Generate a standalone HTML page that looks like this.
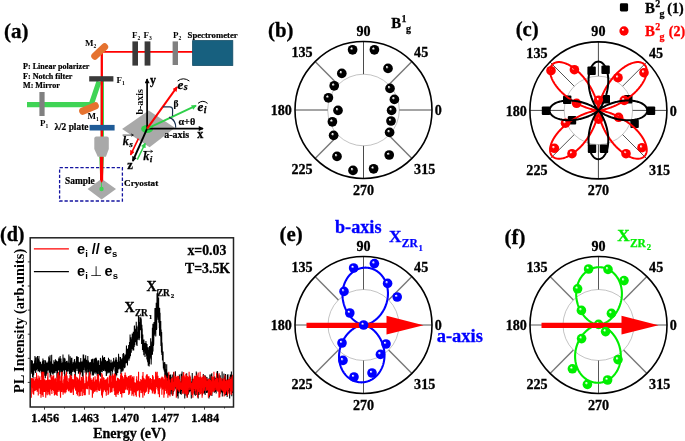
<!DOCTYPE html>
<html lang="en"><head><meta charset="utf-8"><title>Figure</title>
<style>html,body{margin:0;padding:0;background:#fff;}svg{display:block;}</style></head><body>
<svg style="will-change:transform" width="685" height="441" viewBox="0 0 685 441">
<rect x="0" y="0" width="685" height="441" fill="#fff"/>
<defs>
<radialGradient id="gk" cx="0.5" cy="0.5" r="0.5" fx="0.36" fy="0.33"><stop offset="0" stop-color="#fff"/><stop offset="0.07" stop-color="#fff" stop-opacity="0.9"/><stop offset="0.33" stop-color="#000000"/><stop offset="1" stop-color="#000000"/></radialGradient>
<radialGradient id="gr" cx="0.5" cy="0.5" r="0.5" fx="0.36" fy="0.33"><stop offset="0" stop-color="#fff"/><stop offset="0.07" stop-color="#fff" stop-opacity="0.9"/><stop offset="0.33" stop-color="#ff0000"/><stop offset="1" stop-color="#ff0000"/></radialGradient>
<radialGradient id="gb" cx="0.5" cy="0.5" r="0.5" fx="0.36" fy="0.33"><stop offset="0" stop-color="#fff"/><stop offset="0.07" stop-color="#fff" stop-opacity="0.9"/><stop offset="0.33" stop-color="#0000ff"/><stop offset="1" stop-color="#0000ff"/></radialGradient>
<radialGradient id="gg" cx="0.5" cy="0.5" r="0.5" fx="0.36" fy="0.33"><stop offset="0" stop-color="#fff"/><stop offset="0.07" stop-color="#fff" stop-opacity="0.9"/><stop offset="0.33" stop-color="#00ee00"/><stop offset="1" stop-color="#00ee00"/></radialGradient>
<marker id="ahk" markerUnits="userSpaceOnUse" viewBox="0 0 10 10" refX="8.5" refY="5" markerWidth="5.8" markerHeight="5.0" orient="auto"><path d="M0,0 L10,5 L0,10 Z" fill="#000"/></marker>
<marker id="ahr" markerUnits="userSpaceOnUse" viewBox="0 0 10 10" refX="8.5" refY="5" markerWidth="5.8" markerHeight="5.0" orient="auto"><path d="M0,0 L10,5 L0,10 Z" fill="#ff0000"/></marker>
<marker id="ahg" markerUnits="userSpaceOnUse" viewBox="0 0 10 10" refX="8.5" refY="5" markerWidth="5.8" markerHeight="5.0" orient="auto"><path d="M0,0 L10,5 L0,10 Z" fill="#2fd04a"/></marker>
</defs>
<g id="panel-a">
<text x="4" y="38" font-family="'Liberation Serif','Times New Roman',serif" font-size="21" font-weight="bold" fill="#000" stroke="#000" stroke-width="0.3" text-anchor="start" >(a)</text>
<path d="M27,104.6 L91.2,104.6 L99,81.5" fill="none" stroke="#3fd455" stroke-width="5.2" stroke-linejoin="miter"/>
<line x1="102.3" y1="81" x2="102.3" y2="137" stroke="#3fd455" stroke-width="3.4"/>
<line x1="101.8" y1="137" x2="101.8" y2="51" stroke="#ff0000" stroke-width="2.3"/>
<line x1="100.7" y1="51.9" x2="193" y2="51.9" stroke="#ff0000" stroke-width="1.9"/>
<rect x="-10.3" y="-3.55" width="20.6" height="7.1" rx="3.55" fill="#e5722f" transform="translate(99.7,51.5) rotate(-43.5)"/>
<rect x="-10.4" y="-3.6" width="20.8" height="7.2" rx="3.6" fill="#e5722f" transform="translate(89,108.5) rotate(-23)"/>
<rect x="89.2" y="76.2" width="24.2" height="5.3" fill="#3a3a3a"/>
<rect x="39.4" y="92" width="5.2" height="24" fill="#808080"/>
<rect x="89.6" y="124.9" width="25" height="5.6" fill="#1f5b97"/>
<path d="M96.3,136.4 L106.8,136.4 Q108.8,136.4 108.8,138.4 L108.8,149 L105.9,156.8 L97.8,156.8 L94.3,149 L94.3,138.4 Q94.3,136.4 96.3,136.4 Z" fill="#a9a9a9"/>
<rect x="132.4" y="41.4" width="5.6" height="24.2" fill="#3a3a3a"/>
<rect x="144.6" y="41.4" width="5.8" height="24.2" fill="#3a3a3a"/>
<rect x="172.6" y="41.4" width="5.4" height="23.6" fill="#808080"/>
<rect x="192.6" y="40.6" width="40.2" height="24.9" fill="#17607f" stroke="#124c67" stroke-width="0.8"/>
<rect x="59.6" y="167.6" width="62.8" height="33.4" fill="none" stroke="#1414a0" stroke-width="1.3" stroke-dasharray="3.3,1.9"/>
<path d="M87.6,189 L101.6,178.8 L116,189 L101.6,199.6 Z" fill="#a9a9a9"/>
<path d="M99.2,156.8 L104,156.8 L102.9,178 L100.3,178 Z" fill="#3fd455"/>
<path d="M99.9,156.8 L103.3,156.8 L103.2,179.6 L101.6,183.4 L100,179.6 Z" fill="#ff0000"/>
<line x1="101.5" y1="182.5" x2="101.5" y2="189" stroke="#3fd455" stroke-width="0.9"/>
<circle cx="101.5" cy="189" r="2.2" fill="#3fd455"/>
<text x="23" y="69" font-family="'Liberation Serif','Times New Roman',serif" font-size="8.1" font-weight="bold" fill="#000" stroke="#000" stroke-width="0.2" text-anchor="start" >P: Linear polarizer</text>
<text x="23" y="78.5" font-family="'Liberation Serif','Times New Roman',serif" font-size="8.1" font-weight="bold" fill="#000" stroke="#000" stroke-width="0.2" text-anchor="start" >F: Notch filter</text>
<text x="23" y="88" font-family="'Liberation Serif','Times New Roman',serif" font-size="8.1" font-weight="bold" fill="#000" stroke="#000" stroke-width="0.2" text-anchor="start" >M: Mirror</text>
<text x="85.1" y="45.6" font-family="'Liberation Serif','Times New Roman',serif" font-size="9" font-weight="bold" fill="#000">M<tspan font-size="5.58" dy="2">2</tspan></text>
<text x="116.4" y="83" font-family="'Liberation Serif','Times New Roman',serif" font-size="9" font-weight="bold" fill="#000">F<tspan font-size="5.58" dy="2">1</tspan></text>
<text x="40" y="125.6" font-family="'Liberation Serif','Times New Roman',serif" font-size="9" font-weight="bold" fill="#000">P<tspan font-size="5.58" dy="2">1</tspan></text>
<text x="87.4" y="119" font-family="'Liberation Serif','Times New Roman',serif" font-size="9" font-weight="bold" fill="#000">M<tspan font-size="5.58" dy="2">1</tspan></text>
<text x="132" y="38.4" font-family="'Liberation Serif','Times New Roman',serif" font-size="9" font-weight="bold" fill="#000">F<tspan font-size="5.58" dy="2">2</tspan></text>
<text x="143.6" y="38.4" font-family="'Liberation Serif','Times New Roman',serif" font-size="9" font-weight="bold" fill="#000">F<tspan font-size="5.58" dy="2">3</tspan></text>
<text x="173" y="38.4" font-family="'Liberation Serif','Times New Roman',serif" font-size="9" font-weight="bold" fill="#000">P<tspan font-size="5.58" dy="2">2</tspan></text>
<text x="187.6" y="38.4" font-family="'Liberation Serif','Times New Roman',serif" font-size="8.7" font-weight="bold" fill="#000" stroke="#000" stroke-width="0.2" text-anchor="start" >Spectrometer</text>
<text x="54.4" y="130" font-family="'Liberation Serif','Times New Roman',serif" font-size="9.4" font-weight="bold" fill="#000" stroke="#000" stroke-width="0.2" text-anchor="start" >λ/2 plate</text>
<text x="65" y="184" font-family="'Liberation Serif','Times New Roman',serif" font-size="9.4" font-weight="bold" fill="#000" stroke="#000" stroke-width="0.2" text-anchor="start" >Sample</text>
<text x="124" y="185.6" font-family="'Liberation Serif','Times New Roman',serif" font-size="9.2" font-weight="bold" fill="#000" stroke="#000" stroke-width="0.2" text-anchor="start" >Cryostat</text>
<path d="M122.1,129.1 L148.7,110.6 L174.9,127.8 L149.6,147.3 Z" fill="#a9a9a9"/>
<ellipse cx="147.1" cy="129.0" rx="6" ry="4" fill="#2fd04a"/>
<line x1="147.1" y1="128.6" x2="147.1" y2="79" stroke="#000" stroke-width="1.7" marker-end="url(#ahk)"/>
<line x1="147.1" y1="128.6" x2="203" y2="128.6" stroke="#000" stroke-width="1.7" marker-end="url(#ahk)"/>
<line x1="147.1" y1="128.6" x2="132.8" y2="161" stroke="#000" stroke-width="1.9" marker-end="url(#ahk)"/>
<line x1="147.1" y1="128.6" x2="196" y2="105.6" stroke="#2fd04a" stroke-width="1.9" marker-end="url(#ahg)"/>
<line x1="147.1" y1="128.6" x2="177" y2="87" stroke="#ff0000" stroke-width="2.1" marker-end="url(#ahr)"/>
<line x1="138.4" y1="138.7" x2="130.6" y2="154.8" stroke="#ff0000" stroke-width="1.6" marker-end="url(#ahr)"/>
<line x1="137.3" y1="159.6" x2="145.2" y2="143.4" stroke="#2fd04a" stroke-width="1.5" marker-end="url(#ahg)"/>
<path d="M163,106.8 L169.8,106.8 Q172.6,106.8 172.6,109.8 L172.5,116" fill="none" stroke="#1b3350" stroke-width="1.2"/>
<path d="M169.1,117.1 Q176.2,120.5 175.7,127.8" fill="none" stroke="#1b3350" stroke-width="1.2"/>
<text x="150" y="84" font-family="'Liberation Serif','Times New Roman',serif" font-size="12" font-weight="bold" fill="#000" stroke="#000" stroke-width="0.3" text-anchor="start" >y</text>
<text x="197.2" y="137.6" font-family="'Liberation Serif','Times New Roman',serif" font-size="12" font-weight="bold" fill="#000" stroke="#000" stroke-width="0.3" text-anchor="start" >x</text>
<text x="164.2" y="137.6" font-family="'Liberation Serif','Times New Roman',serif" font-size="10" font-weight="bold" fill="#000" stroke="#000" stroke-width="0.2" text-anchor="start" >a-axis</text>
<text font-family="'Liberation Serif','Times New Roman',serif" font-size="10" font-weight="bold" fill="#000" transform="translate(142.6,114.6) rotate(-90)">b-axis</text>
<text x="173.6" y="107" font-family="'Liberation Serif','Times New Roman',serif" font-size="9.5" font-weight="bold" fill="#000" stroke="#000" stroke-width="0.2" text-anchor="start" >β</text>
<text x="178.4" y="125" font-family="'Liberation Serif','Times New Roman',serif" font-size="10.2" font-weight="bold" fill="#000" stroke="#000" stroke-width="0.2" text-anchor="start" >α+θ</text>
<text x="127.2" y="168.6" font-family="'Liberation Serif','Times New Roman',serif" font-size="12.6" font-weight="bold" fill="#000" stroke="#000" stroke-width="0.3" text-anchor="start" >z</text>
<text x="177.5" y="88.6" font-family="'Liberation Serif','Times New Roman',serif" font-size="13.2" font-weight="bold" font-style="italic" fill="#000" stroke="#000" stroke-width="0.25">e<tspan font-size="10.03" dy="1.8" dx="0.3">s</tspan></text>
<text x="197.6" y="111" font-family="'Liberation Serif','Times New Roman',serif" font-size="13.2" font-weight="bold" font-style="italic" fill="#000" stroke="#000" stroke-width="0.25">e<tspan font-size="10.03" dy="1.8" dx="0.3">i</tspan></text>
<path d="M177.6,81 Q183.3,76.6 189.4,81" fill="none" stroke="#000" stroke-width="1"/>
<path d="M198,103.4 Q202.8,99.2 207.6,103.4" fill="none" stroke="#000" stroke-width="1"/>
<text x="122.8" y="144.9" font-family="'Liberation Serif','Times New Roman',serif" font-size="12.2" font-weight="bold" font-style="italic" fill="#000" stroke="#000" stroke-width="0.25">k<tspan font-size="9.27" dy="1.8" dx="0.3">s</tspan></text>
<text x="143.3" y="160.4" font-family="'Liberation Serif','Times New Roman',serif" font-size="12.2" font-weight="bold" font-style="italic" fill="#000" stroke="#000" stroke-width="0.25">k<tspan font-size="9.27" dy="1.8" dx="0.3">i</tspan></text>
<path d="M122.6,135.1 L133.2,135.1 M131.2,133.9 L133.4,135.1 L131.2,136.3" fill="none" stroke="#000" stroke-width="0.7"/>
<path d="M143,151.4 L152.5,151.4 M150.5,150.2 L152.7,151.4 L150.5,152.6" fill="none" stroke="#000" stroke-width="0.7"/>
</g>
<g id="panel-b">
<circle cx="363.5" cy="110" r="35.8" fill="none" stroke="#9a9a9a" stroke-width="0.6"/>
<line x1="399.30" y1="110.00" x2="432.00" y2="110.00" stroke="#4a4a4a" stroke-width="1"/>
<line x1="388.81" y1="84.69" x2="411.94" y2="61.56" stroke="#777" stroke-width="1.4"/>
<line x1="363.50" y1="74.20" x2="363.50" y2="41.50" stroke="#4a4a4a" stroke-width="1"/>
<line x1="338.19" y1="84.69" x2="315.06" y2="61.56" stroke="#777" stroke-width="1.4"/>
<line x1="327.70" y1="110.00" x2="295.00" y2="110.00" stroke="#4a4a4a" stroke-width="1"/>
<line x1="338.19" y1="135.31" x2="315.06" y2="158.44" stroke="#777" stroke-width="1.4"/>
<line x1="363.50" y1="145.80" x2="363.50" y2="178.50" stroke="#4a4a4a" stroke-width="1"/>
<line x1="388.81" y1="135.31" x2="411.94" y2="158.44" stroke="#777" stroke-width="1.4"/>
<circle cx="363.5" cy="110" r="68.5" fill="none" stroke="#000" stroke-width="1.6"/>
<text x="363.5" y="35.8" font-family="'Liberation Serif','Times New Roman',serif" font-size="14.1" font-weight="bold" fill="#000" stroke="#000" stroke-width="0.3" text-anchor="middle" >90</text>
<text x="363.5" y="194.5" font-family="'Liberation Serif','Times New Roman',serif" font-size="14.1" font-weight="bold" fill="#000" stroke="#000" stroke-width="0.3" text-anchor="middle" >270</text>
<text x="434.8" y="115.2" font-family="'Liberation Serif','Times New Roman',serif" font-size="14.1" font-weight="bold" fill="#000" stroke="#000" stroke-width="0.3" text-anchor="start" >0</text>
<text x="291.9" y="115.4" font-family="'Liberation Serif','Times New Roman',serif" font-size="14.1" font-weight="bold" fill="#000" stroke="#000" stroke-width="0.3" text-anchor="end" >180</text>
<text x="414.1" y="57.2" font-family="'Liberation Serif','Times New Roman',serif" font-size="14.1" font-weight="bold" fill="#000" stroke="#000" stroke-width="0.3" text-anchor="start" >45</text>
<text x="312.6" y="57.2" font-family="'Liberation Serif','Times New Roman',serif" font-size="14.1" font-weight="bold" fill="#000" stroke="#000" stroke-width="0.3" text-anchor="end" >135</text>
<text x="414.1" y="174.1" font-family="'Liberation Serif','Times New Roman',serif" font-size="14.1" font-weight="bold" fill="#000" stroke="#000" stroke-width="0.3" text-anchor="start" >315</text>
<text x="312.6" y="174.1" font-family="'Liberation Serif','Times New Roman',serif" font-size="14.1" font-weight="bold" fill="#000" stroke="#000" stroke-width="0.3" text-anchor="end" >225</text>
<circle cx="352.6" cy="49.8" r="4.85" fill="url(#gk)"/>
<circle cx="374.4" cy="49.8" r="4.85" fill="url(#gk)"/>
<circle cx="388" cy="68.4" r="4.85" fill="url(#gk)"/>
<circle cx="341.8" cy="73.4" r="4.85" fill="url(#gk)"/>
<circle cx="334.2" cy="85.80000000000001" r="4.85" fill="url(#gk)"/>
<circle cx="390" cy="88.4" r="4.85" fill="url(#gk)"/>
<circle cx="328.4" cy="97.80000000000001" r="4.85" fill="url(#gk)"/>
<circle cx="394.4" cy="99.4" r="4.85" fill="url(#gk)"/>
<circle cx="338" cy="110.4" r="4.85" fill="url(#gk)"/>
<circle cx="391.6" cy="110.4" r="4.85" fill="url(#gk)"/>
<circle cx="332.4" cy="121.80000000000001" r="4.85" fill="url(#gk)"/>
<circle cx="391" cy="121.0" r="4.85" fill="url(#gk)"/>
<circle cx="333.6" cy="135.4" r="4.85" fill="url(#gk)"/>
<circle cx="389.6" cy="132.4" r="4.85" fill="url(#gk)"/>
<circle cx="337" cy="156.4" r="4.85" fill="url(#gk)"/>
<circle cx="389.2" cy="155.0" r="4.85" fill="url(#gk)"/>
<circle cx="353" cy="170.4" r="4.85" fill="url(#gk)"/>
<circle cx="373.6" cy="168.8" r="4.85" fill="url(#gk)"/>
<text x="268.1" y="36.8" font-family="'Liberation Serif','Times New Roman',serif" font-size="20.8" font-weight="bold" fill="#000" stroke="#000" stroke-width="0.3" text-anchor="start" >(b)</text>
<text x="391.3" y="27.9" font-family="'Liberation Serif','Times New Roman',serif" font-size="14.8" font-weight="bold" fill="#000" stroke="#000" stroke-width="0.3" text-anchor="start" >B</text>
<text x="401.6" y="22.099999999999998" font-family="'Liberation Serif','Times New Roman',serif" font-size="10" font-weight="bold" fill="#000" stroke="#000" stroke-width="0.25" text-anchor="start" >1</text>
<text x="405.90000000000003" y="31.9" font-family="'Liberation Serif','Times New Roman',serif" font-size="10" font-weight="bold" fill="#000" stroke="#000" stroke-width="0.25" text-anchor="start" >g</text>
</g>
<g id="panel-c">
<circle cx="598.4" cy="110.4" r="34.2" fill="none" stroke="#9a9a9a" stroke-width="0.6"/>
<line x1="632.60" y1="110.40" x2="666.90" y2="110.40" stroke="#4a4a4a" stroke-width="1"/>
<line x1="622.58" y1="86.22" x2="646.84" y2="61.96" stroke="#4a4a4a" stroke-width="0.95"/>
<line x1="598.40" y1="76.20" x2="598.40" y2="41.90" stroke="#4a4a4a" stroke-width="1"/>
<line x1="574.22" y1="86.22" x2="549.96" y2="61.96" stroke="#4a4a4a" stroke-width="0.95"/>
<line x1="564.20" y1="110.40" x2="529.90" y2="110.40" stroke="#4a4a4a" stroke-width="1"/>
<line x1="574.22" y1="134.58" x2="549.96" y2="158.84" stroke="#4a4a4a" stroke-width="0.95"/>
<line x1="598.40" y1="144.60" x2="598.40" y2="178.90" stroke="#4a4a4a" stroke-width="1"/>
<line x1="622.58" y1="134.58" x2="646.84" y2="158.84" stroke="#4a4a4a" stroke-width="0.95"/>
<circle cx="598.4" cy="110.4" r="68.5" fill="none" stroke="#000" stroke-width="1.6"/>
<text x="598.4" y="36.2" font-family="'Liberation Serif','Times New Roman',serif" font-size="14.1" font-weight="bold" fill="#000" stroke="#000" stroke-width="0.3" text-anchor="middle" >90</text>
<text x="598.4" y="194.9" font-family="'Liberation Serif','Times New Roman',serif" font-size="14.1" font-weight="bold" fill="#000" stroke="#000" stroke-width="0.3" text-anchor="middle" >270</text>
<text x="669.7" y="115.6" font-family="'Liberation Serif','Times New Roman',serif" font-size="14.1" font-weight="bold" fill="#000" stroke="#000" stroke-width="0.3" text-anchor="start" >0</text>
<text x="526.8" y="115.8" font-family="'Liberation Serif','Times New Roman',serif" font-size="14.1" font-weight="bold" fill="#000" stroke="#000" stroke-width="0.3" text-anchor="end" >180</text>
<text x="649.0" y="57.6" font-family="'Liberation Serif','Times New Roman',serif" font-size="14.1" font-weight="bold" fill="#000" stroke="#000" stroke-width="0.3" text-anchor="start" >45</text>
<text x="547.5" y="57.6" font-family="'Liberation Serif','Times New Roman',serif" font-size="14.1" font-weight="bold" fill="#000" stroke="#000" stroke-width="0.3" text-anchor="end" >135</text>
<text x="649.0" y="174.5" font-family="'Liberation Serif','Times New Roman',serif" font-size="14.1" font-weight="bold" fill="#000" stroke="#000" stroke-width="0.3" text-anchor="start" >315</text>
<text x="547.5" y="174.5" font-family="'Liberation Serif','Times New Roman',serif" font-size="14.1" font-weight="bold" fill="#000" stroke="#000" stroke-width="0.3" text-anchor="end" >225</text>
<rect x="541.80" y="106.50" width="8.4" height="8.4" rx="1" fill="#000"/>
<rect x="646.80" y="106.50" width="8.4" height="8.4" rx="1" fill="#000"/>
<rect x="563.00" y="95.50" width="8.4" height="8.4" rx="1" fill="#000"/>
<rect x="567.80" y="116.10" width="8.4" height="8.4" rx="1" fill="#000"/>
<rect x="624.10" y="95.10" width="8.4" height="8.4" rx="1" fill="#000"/>
<rect x="630.40" y="119.70" width="8.4" height="8.4" rx="1" fill="#000"/>
<rect x="587.40" y="66.50" width="8.4" height="8.4" rx="1" fill="#000"/>
<rect x="601.40" y="65.50" width="8.4" height="8.4" rx="1" fill="#000"/>
<rect x="601.60" y="95.10" width="8.4" height="8.4" rx="1" fill="#000"/>
<rect x="587.80" y="144.50" width="8.4" height="8.4" rx="1" fill="#000"/>
<rect x="599.80" y="144.50" width="8.4" height="8.4" rx="1" fill="#000"/>
<circle cx="551" cy="70.7" r="4.8" fill="url(#gr)"/>
<circle cx="574.4" cy="69.7" r="4.8" fill="url(#gr)"/>
<circle cx="618" cy="77.7" r="4.8" fill="url(#gr)"/>
<circle cx="644" cy="72.7" r="4.8" fill="url(#gr)"/>
<circle cx="576.6" cy="103.3" r="4.8" fill="url(#gr)"/>
<circle cx="624.2" cy="100.4" r="4.8" fill="url(#gr)"/>
<circle cx="598.6" cy="100.4" r="4.8" fill="url(#gr)"/>
<circle cx="598.6" cy="119.10000000000001" r="4.8" fill="url(#gr)"/>
<circle cx="565.5" cy="123.2" r="4.8" fill="url(#gr)"/>
<circle cx="618.6" cy="117.3" r="4.8" fill="url(#gr)"/>
<circle cx="554.4" cy="148.29999999999998" r="4.8" fill="url(#gr)"/>
<circle cx="642" cy="147.7" r="4.8" fill="url(#gr)"/>
<circle cx="572" cy="153.7" r="4.8" fill="url(#gr)"/>
<circle cx="626" cy="153.7" r="4.8" fill="url(#gr)"/>
<polyline points="598.40,110.40 598.42,110.40 598.48,110.40 598.58,110.40 598.72,110.39 598.89,110.38 599.11,110.36 599.36,110.34 599.66,110.31 599.99,110.28 600.35,110.23 600.76,110.17 601.19,110.11 601.67,110.03 602.18,109.94 602.72,109.83 603.29,109.71 603.90,109.58 604.53,109.43 605.20,109.26 605.89,109.08 606.61,108.88 607.35,108.66 608.12,108.42 608.92,108.16 609.73,107.89 610.57,107.59 611.43,107.27 612.30,106.93 613.19,106.57 614.10,106.19 615.02,105.79 615.95,105.37 616.89,104.92 617.84,104.46 618.79,103.97 619.76,103.46 620.73,102.93 621.70,102.38 622.67,101.81 623.64,101.21 624.61,100.60 625.57,99.97 626.53,99.32 627.48,98.65 628.43,97.96 629.36,97.26 630.28,96.54 631.19,95.80 632.09,95.05 632.97,94.28 633.83,93.50 634.68,92.71 635.50,91.90 636.31,91.09 637.09,90.26 637.85,89.43 638.58,88.58 639.29,87.74 639.97,86.88 640.62,86.03 641.24,85.16 641.84,84.30 642.40,83.44 642.93,82.57 643.43,81.71 643.90,80.86 644.33,80.00 644.73,79.15 645.09,78.31 645.42,77.48 645.71,76.66 645.96,75.84 646.18,75.04 646.37,74.25 646.51,73.48 646.62,72.72 646.70,71.98 646.73,71.26 646.73,70.56 646.69,69.88 646.62,69.22 646.51,68.58 646.36,67.97 646.18,67.38 645.96,66.82 645.71,66.29 645.42,65.78 645.10,65.30 644.75,64.85 644.36,64.44 643.95,64.05 643.50,63.70 643.02,63.38 642.51,63.09 641.98,62.84 641.42,62.62 640.83,62.44 640.22,62.29 639.58,62.18 638.92,62.11 638.24,62.07 637.54,62.07 636.82,62.10 636.08,62.18 635.32,62.29 634.55,62.43 633.76,62.62 632.96,62.84 632.14,63.09 631.32,63.38 630.49,63.71 629.65,64.07 628.80,64.47 627.94,64.90 627.09,65.37 626.23,65.87 625.36,66.40 624.50,66.96 623.64,67.56 622.77,68.18 621.92,68.83 621.06,69.51 620.22,70.22 619.37,70.95 618.54,71.71 617.71,72.49 616.90,73.30 616.09,74.12 615.30,74.97 614.52,75.83 613.75,76.71 613.00,77.61 612.26,78.52 611.54,79.44 610.84,80.37 610.15,81.32 609.48,82.27 608.83,83.23 608.20,84.19 607.59,85.16 606.99,86.13 606.42,87.10 605.87,88.07 605.34,89.04 604.83,90.01 604.34,90.96 603.88,91.91 603.43,92.85 603.01,93.78 602.61,94.70 602.23,95.61 601.87,96.50 601.53,97.37 601.21,98.23 600.91,99.07 600.64,99.88 600.38,100.68 600.14,101.45 599.92,102.19 599.72,102.91 599.54,103.60 599.37,104.27 599.22,104.90 599.09,105.51 598.97,106.08 598.86,106.62 598.77,107.13 598.69,107.61 598.63,108.04 598.57,108.45 598.52,108.81 598.49,109.14 598.46,109.44 598.44,109.69 598.42,109.91 598.41,110.08 598.40,110.22 598.40,110.32 598.40,110.38 598.40,110.40 598.40,110.38 598.40,110.32 598.40,110.22 598.39,110.08 598.38,109.91 598.36,109.69 598.34,109.44 598.31,109.14 598.28,108.81 598.23,108.45 598.17,108.04 598.11,107.61 598.03,107.13 597.94,106.62 597.83,106.08 597.71,105.51 597.58,104.90 597.43,104.27 597.26,103.60 597.08,102.91 596.88,102.19 596.66,101.45 596.42,100.68 596.16,99.88 595.89,99.07 595.59,98.23 595.27,97.37 594.93,96.50 594.57,95.61 594.19,94.70 593.79,93.78 593.37,92.85 592.92,91.91 592.46,90.96 591.97,90.01 591.46,89.04 590.93,88.07 590.38,87.10 589.81,86.13 589.21,85.16 588.60,84.19 587.97,83.23 587.32,82.27 586.65,81.32 585.96,80.37 585.26,79.44 584.54,78.52 583.80,77.61 583.05,76.71 582.28,75.83 581.50,74.97 580.71,74.12 579.90,73.30 579.09,72.49 578.26,71.71 577.43,70.95 576.58,70.22 575.74,69.51 574.88,68.83 574.02,68.18 573.16,67.56 572.30,66.96 571.44,66.40 570.57,65.87 569.71,65.37 568.86,64.90 568.00,64.47 567.15,64.07 566.31,63.71 565.48,63.38 564.66,63.09 563.84,62.84 563.04,62.62 562.25,62.43 561.48,62.29 560.72,62.18 559.98,62.10 559.26,62.07 558.56,62.07 557.88,62.11 557.22,62.18 556.58,62.29 555.97,62.44 555.38,62.62 554.82,62.84 554.29,63.09 553.78,63.38 553.30,63.70 552.85,64.05 552.44,64.44 552.05,64.85 551.70,65.30 551.38,65.78 551.09,66.29 550.84,66.82 550.62,67.38 550.44,67.97 550.29,68.58 550.18,69.22 550.11,69.88 550.07,70.56 550.07,71.26 550.10,71.98 550.18,72.72 550.29,73.48 550.43,74.25 550.62,75.04 550.84,75.84 551.09,76.66 551.38,77.48 551.71,78.31 552.07,79.15 552.47,80.00 552.90,80.86 553.37,81.71 553.87,82.57 554.40,83.44 554.96,84.30 555.56,85.16 556.18,86.03 556.83,86.88 557.51,87.74 558.22,88.58 558.95,89.43 559.71,90.26 560.49,91.09 561.30,91.90 562.12,92.71 562.97,93.50 563.83,94.28 564.71,95.05 565.61,95.80 566.52,96.54 567.44,97.26 568.37,97.96 569.32,98.65 570.27,99.32 571.23,99.97 572.19,100.60 573.16,101.21 574.13,101.81 575.10,102.38 576.07,102.93 577.04,103.46 578.01,103.97 578.96,104.46 579.91,104.92 580.85,105.37 581.78,105.79 582.70,106.19 583.61,106.57 584.50,106.93 585.37,107.27 586.23,107.59 587.07,107.89 587.88,108.16 588.68,108.42 589.45,108.66 590.19,108.88 590.91,109.08 591.60,109.26 592.27,109.43 592.90,109.58 593.51,109.71 594.08,109.83 594.62,109.94 595.13,110.03 595.61,110.11 596.04,110.17 596.45,110.23 596.81,110.28 597.14,110.31 597.44,110.34 597.69,110.36 597.91,110.38 598.08,110.39 598.22,110.40 598.32,110.40 598.38,110.40 598.40,110.40 598.38,110.40 598.32,110.40 598.22,110.40 598.08,110.41 597.91,110.42 597.69,110.44 597.44,110.46 597.14,110.49 596.81,110.52 596.45,110.57 596.04,110.63 595.61,110.69 595.13,110.77 594.62,110.86 594.08,110.97 593.51,111.09 592.90,111.22 592.27,111.37 591.60,111.54 590.91,111.72 590.19,111.92 589.45,112.14 588.68,112.38 587.88,112.64 587.07,112.91 586.23,113.21 585.37,113.53 584.50,113.87 583.61,114.23 582.70,114.61 581.78,115.01 580.85,115.43 579.91,115.88 578.96,116.34 578.01,116.83 577.04,117.34 576.07,117.87 575.10,118.42 574.13,118.99 573.16,119.59 572.19,120.20 571.23,120.83 570.27,121.48 569.32,122.15 568.37,122.84 567.44,123.54 566.52,124.26 565.61,125.00 564.71,125.75 563.83,126.52 562.97,127.30 562.12,128.09 561.30,128.90 560.49,129.71 559.71,130.54 558.95,131.37 558.22,132.22 557.51,133.06 556.83,133.92 556.18,134.78 555.56,135.64 554.96,136.50 554.40,137.36 553.87,138.23 553.37,139.09 552.90,139.94 552.47,140.80 552.07,141.65 551.71,142.49 551.38,143.32 551.09,144.14 550.84,144.96 550.62,145.76 550.43,146.55 550.29,147.32 550.18,148.08 550.10,148.82 550.07,149.54 550.07,150.24 550.11,150.92 550.18,151.58 550.29,152.22 550.44,152.83 550.62,153.42 550.84,153.98 551.09,154.51 551.38,155.02 551.70,155.50 552.05,155.95 552.44,156.36 552.85,156.75 553.30,157.10 553.78,157.42 554.29,157.71 554.82,157.96 555.38,158.18 555.97,158.36 556.58,158.51 557.22,158.62 557.88,158.69 558.56,158.73 559.26,158.73 559.98,158.70 560.72,158.62 561.48,158.51 562.25,158.37 563.04,158.18 563.84,157.96 564.66,157.71 565.48,157.42 566.31,157.09 567.15,156.73 568.00,156.33 568.86,155.90 569.71,155.43 570.57,154.93 571.44,154.40 572.30,153.84 573.16,153.24 574.02,152.62 574.88,151.97 575.74,151.29 576.58,150.58 577.43,149.85 578.26,149.09 579.09,148.31 579.90,147.50 580.71,146.68 581.50,145.83 582.28,144.97 583.05,144.09 583.80,143.19 584.54,142.28 585.26,141.36 585.96,140.43 586.65,139.48 587.32,138.53 587.97,137.57 588.60,136.61 589.21,135.64 589.81,134.67 590.38,133.70 590.93,132.73 591.46,131.76 591.97,130.79 592.46,129.84 592.92,128.89 593.37,127.95 593.79,127.02 594.19,126.10 594.57,125.19 594.93,124.30 595.27,123.43 595.59,122.57 595.89,121.73 596.16,120.92 596.42,120.12 596.66,119.35 596.88,118.61 597.08,117.89 597.26,117.20 597.43,116.53 597.58,115.90 597.71,115.29 597.83,114.72 597.94,114.18 598.03,113.67 598.11,113.19 598.17,112.76 598.23,112.35 598.28,111.99 598.31,111.66 598.34,111.36 598.36,111.11 598.38,110.89 598.39,110.72 598.40,110.58 598.40,110.48 598.40,110.42 598.40,110.40 598.40,110.42 598.40,110.48 598.40,110.58 598.41,110.72 598.42,110.89 598.44,111.11 598.46,111.36 598.49,111.66 598.52,111.99 598.57,112.35 598.63,112.76 598.69,113.19 598.77,113.67 598.86,114.18 598.97,114.72 599.09,115.29 599.22,115.90 599.37,116.53 599.54,117.20 599.72,117.89 599.92,118.61 600.14,119.35 600.38,120.12 600.64,120.92 600.91,121.73 601.21,122.57 601.53,123.43 601.87,124.30 602.23,125.19 602.61,126.10 603.01,127.02 603.43,127.95 603.88,128.89 604.34,129.84 604.83,130.79 605.34,131.76 605.87,132.73 606.42,133.70 606.99,134.67 607.59,135.64 608.20,136.61 608.83,137.57 609.48,138.53 610.15,139.48 610.84,140.43 611.54,141.36 612.26,142.28 613.00,143.19 613.75,144.09 614.52,144.97 615.30,145.83 616.09,146.68 616.90,147.50 617.71,148.31 618.54,149.09 619.37,149.85 620.22,150.58 621.06,151.29 621.92,151.97 622.77,152.62 623.64,153.24 624.50,153.84 625.36,154.40 626.23,154.93 627.09,155.43 627.94,155.90 628.80,156.33 629.65,156.73 630.49,157.09 631.32,157.42 632.14,157.71 632.96,157.96 633.76,158.18 634.55,158.37 635.32,158.51 636.08,158.62 636.82,158.70 637.54,158.73 638.24,158.73 638.92,158.69 639.58,158.62 640.22,158.51 640.83,158.36 641.42,158.18 641.98,157.96 642.51,157.71 643.02,157.42 643.50,157.10 643.95,156.75 644.36,156.36 644.75,155.95 645.10,155.50 645.42,155.02 645.71,154.51 645.96,153.98 646.18,153.42 646.36,152.83 646.51,152.22 646.62,151.58 646.69,150.92 646.73,150.24 646.73,149.54 646.70,148.82 646.62,148.08 646.51,147.32 646.37,146.55 646.18,145.76 645.96,144.96 645.71,144.14 645.42,143.32 645.09,142.49 644.73,141.65 644.33,140.80 643.90,139.94 643.43,139.09 642.93,138.23 642.40,137.36 641.84,136.50 641.24,135.64 640.62,134.78 639.97,133.92 639.29,133.06 638.58,132.22 637.85,131.37 637.09,130.54 636.31,129.71 635.50,128.90 634.68,128.09 633.83,127.30 632.97,126.52 632.09,125.75 631.19,125.00 630.28,124.26 629.36,123.54 628.43,122.84 627.48,122.15 626.53,121.48 625.57,120.83 624.61,120.20 623.64,119.59 622.67,118.99 621.70,118.42 620.73,117.87 619.76,117.34 618.79,116.83 617.84,116.34 616.89,115.88 615.95,115.43 615.02,115.01 614.10,114.61 613.19,114.23 612.30,113.87 611.43,113.53 610.57,113.21 609.73,112.91 608.92,112.64 608.12,112.38 607.35,112.14 606.61,111.92 605.89,111.72 605.20,111.54 604.53,111.37 603.90,111.22 603.29,111.09 602.72,110.97 602.18,110.86 601.67,110.77 601.19,110.69 600.76,110.63 600.35,110.57 599.99,110.52 599.66,110.49 599.36,110.46 599.11,110.44 598.89,110.42 598.72,110.41 598.58,110.40 598.48,110.40 598.42,110.40 598.40,110.40" fill="none" stroke="#ff0000" stroke-width="2.0" stroke-linejoin="round"/>
<polyline points="647.20,110.40 647.18,109.97 647.13,109.55 647.05,109.13 646.93,108.71 646.78,108.29 646.60,107.87 646.39,107.47 646.14,107.06 645.86,106.66 645.55,106.28 645.21,105.89 644.83,105.52 644.43,105.16 644.00,104.80 643.54,104.46 643.05,104.12 642.54,103.80 642.00,103.49 641.43,103.20 640.84,102.92 640.22,102.65 639.58,102.40 638.92,102.16 638.24,101.93 637.53,101.72 636.81,101.53 636.07,101.36 635.31,101.20 634.54,101.05 633.75,100.93 632.95,100.82 632.14,100.73 631.31,100.65 630.47,100.59 629.63,100.55 628.78,100.53 627.92,100.52 627.05,100.53 626.18,100.56 625.31,100.61 624.44,100.67 623.56,100.74 622.69,100.83 621.81,100.94 620.94,101.06 620.08,101.20 619.22,101.35 618.36,101.51 617.51,101.69 616.67,101.88 615.84,102.08 615.03,102.29 614.22,102.51 613.42,102.75 612.64,102.99 611.87,103.24 611.12,103.49 610.39,103.76 609.67,104.03 608.97,104.30 608.28,104.58 607.62,104.86 606.98,105.14 606.35,105.43 605.75,105.72 605.17,106.00 604.61,106.29 604.08,106.57 603.57,106.85 603.08,107.13 602.61,107.40 602.17,107.66 601.75,107.92 601.36,108.17 600.99,108.41 600.65,108.64 600.33,108.86 600.04,109.07 599.77,109.27 599.53,109.45 599.31,109.62 599.11,109.78 598.94,109.92 598.80,110.04 598.67,110.15 598.57,110.24 598.50,110.31 598.44,110.36 598.41,110.39 598.40,110.40 598.41,110.39 598.44,110.36 598.49,110.30 598.56,110.23 598.65,110.13 598.76,110.00 598.88,109.86 599.02,109.69 599.18,109.49 599.35,109.27 599.53,109.03 599.73,108.76 599.94,108.47 600.16,108.15 600.39,107.81 600.63,107.44 600.88,107.05 601.14,106.63 601.40,106.19 601.67,105.72 601.95,105.23 602.23,104.72 602.51,104.19 602.80,103.63 603.08,103.05 603.37,102.45 603.66,101.82 603.94,101.18 604.22,100.52 604.50,99.83 604.77,99.13 605.04,98.41 605.31,97.68 605.56,96.93 605.81,96.16 606.05,95.38 606.29,94.58 606.51,93.77 606.72,92.96 606.92,92.13 607.11,91.29 607.29,90.44 607.45,89.58 607.60,88.72 607.74,87.86 607.86,86.99 607.97,86.11 608.06,85.24 608.13,84.36 608.19,83.49 608.24,82.62 608.27,81.75 608.28,80.88 608.27,80.02 608.25,79.17 608.21,78.33 608.15,77.49 608.07,76.66 607.98,75.85 607.87,75.05 607.75,74.26 607.60,73.49 607.44,72.73 607.27,71.99 607.08,71.27 606.87,70.56 606.64,69.88 606.40,69.22 606.15,68.58 605.88,67.96 605.60,67.37 605.31,66.80 605.00,66.26 604.68,65.75 604.34,65.26 604.00,64.80 603.64,64.37 603.28,63.97 602.91,63.59 602.52,63.25 602.14,62.94 601.74,62.66 601.33,62.41 600.93,62.20 600.51,62.02 600.09,61.87 599.67,61.75 599.25,61.67 598.83,61.62 598.40,61.60 597.97,61.62 597.55,61.67 597.13,61.75 596.71,61.87 596.29,62.02 595.87,62.20 595.47,62.41 595.06,62.66 594.66,62.94 594.28,63.25 593.89,63.59 593.52,63.97 593.16,64.37 592.80,64.80 592.46,65.26 592.12,65.75 591.80,66.26 591.49,66.80 591.20,67.37 590.92,67.96 590.65,68.58 590.40,69.22 590.16,69.88 589.93,70.56 589.72,71.27 589.53,71.99 589.36,72.73 589.20,73.49 589.05,74.26 588.93,75.05 588.82,75.85 588.73,76.66 588.65,77.49 588.59,78.33 588.55,79.17 588.53,80.02 588.52,80.88 588.53,81.75 588.56,82.62 588.61,83.49 588.67,84.36 588.74,85.24 588.83,86.11 588.94,86.99 589.06,87.86 589.20,88.72 589.35,89.58 589.51,90.44 589.69,91.29 589.88,92.13 590.08,92.96 590.29,93.77 590.51,94.58 590.75,95.38 590.99,96.16 591.24,96.93 591.49,97.68 591.76,98.41 592.03,99.13 592.30,99.83 592.58,100.52 592.86,101.18 593.14,101.82 593.43,102.45 593.72,103.05 594.00,103.63 594.29,104.19 594.57,104.72 594.85,105.23 595.13,105.72 595.40,106.19 595.66,106.63 595.92,107.05 596.17,107.44 596.41,107.81 596.64,108.15 596.86,108.47 597.07,108.76 597.27,109.03 597.45,109.27 597.62,109.49 597.78,109.69 597.92,109.86 598.04,110.00 598.15,110.13 598.24,110.23 598.31,110.30 598.36,110.36 598.39,110.39 598.40,110.40 598.39,110.39 598.36,110.36 598.30,110.31 598.23,110.24 598.13,110.15 598.00,110.04 597.86,109.92 597.69,109.78 597.49,109.62 597.27,109.45 597.03,109.27 596.76,109.07 596.47,108.86 596.15,108.64 595.81,108.41 595.44,108.17 595.05,107.92 594.63,107.66 594.19,107.40 593.72,107.13 593.23,106.85 592.72,106.57 592.19,106.29 591.63,106.00 591.05,105.72 590.45,105.43 589.82,105.14 589.18,104.86 588.52,104.58 587.83,104.30 587.13,104.03 586.41,103.76 585.68,103.49 584.93,103.24 584.16,102.99 583.38,102.75 582.58,102.51 581.77,102.29 580.96,102.08 580.13,101.88 579.29,101.69 578.44,101.51 577.58,101.35 576.72,101.20 575.86,101.06 574.99,100.94 574.11,100.83 573.24,100.74 572.36,100.67 571.49,100.61 570.62,100.56 569.75,100.53 568.88,100.52 568.02,100.53 567.17,100.55 566.33,100.59 565.49,100.65 564.66,100.73 563.85,100.82 563.05,100.93 562.26,101.05 561.49,101.20 560.73,101.36 559.99,101.53 559.27,101.72 558.56,101.93 557.88,102.16 557.22,102.40 556.58,102.65 555.96,102.92 555.37,103.20 554.80,103.49 554.26,103.80 553.75,104.12 553.26,104.46 552.80,104.80 552.37,105.16 551.97,105.52 551.59,105.89 551.25,106.28 550.94,106.66 550.66,107.06 550.41,107.47 550.20,107.87 550.02,108.29 549.87,108.71 549.75,109.13 549.67,109.55 549.62,109.97 549.60,110.40 549.62,110.83 549.67,111.25 549.75,111.67 549.87,112.09 550.02,112.51 550.20,112.93 550.41,113.33 550.66,113.74 550.94,114.14 551.25,114.52 551.59,114.91 551.97,115.28 552.37,115.64 552.80,116.00 553.26,116.34 553.75,116.68 554.26,117.00 554.80,117.31 555.37,117.60 555.96,117.88 556.58,118.15 557.22,118.40 557.88,118.64 558.56,118.87 559.27,119.08 559.99,119.27 560.73,119.44 561.49,119.60 562.26,119.75 563.05,119.87 563.85,119.98 564.66,120.07 565.49,120.15 566.33,120.21 567.17,120.25 568.02,120.27 568.88,120.28 569.75,120.27 570.62,120.24 571.49,120.19 572.36,120.13 573.24,120.06 574.11,119.97 574.99,119.86 575.86,119.74 576.72,119.60 577.58,119.45 578.44,119.29 579.29,119.11 580.13,118.92 580.96,118.72 581.77,118.51 582.58,118.29 583.38,118.05 584.16,117.81 584.93,117.56 585.68,117.31 586.41,117.04 587.13,116.77 587.83,116.50 588.52,116.22 589.18,115.94 589.82,115.66 590.45,115.37 591.05,115.08 591.63,114.80 592.19,114.51 592.72,114.23 593.23,113.95 593.72,113.67 594.19,113.40 594.63,113.14 595.05,112.88 595.44,112.63 595.81,112.39 596.15,112.16 596.47,111.94 596.76,111.73 597.03,111.53 597.27,111.35 597.49,111.18 597.69,111.02 597.86,110.88 598.00,110.76 598.13,110.65 598.23,110.56 598.30,110.49 598.36,110.44 598.39,110.41 598.40,110.40 598.39,110.41 598.36,110.44 598.31,110.50 598.24,110.57 598.15,110.67 598.04,110.80 597.92,110.94 597.78,111.11 597.62,111.31 597.45,111.53 597.27,111.77 597.07,112.04 596.86,112.33 596.64,112.65 596.41,112.99 596.17,113.36 595.92,113.75 595.66,114.17 595.40,114.61 595.13,115.08 594.85,115.57 594.57,116.08 594.29,116.61 594.00,117.17 593.72,117.75 593.43,118.35 593.14,118.98 592.86,119.62 592.58,120.28 592.30,120.97 592.03,121.67 591.76,122.39 591.49,123.12 591.24,123.87 590.99,124.64 590.75,125.42 590.51,126.22 590.29,127.03 590.08,127.84 589.88,128.67 589.69,129.51 589.51,130.36 589.35,131.22 589.20,132.08 589.06,132.94 588.94,133.81 588.83,134.69 588.74,135.56 588.67,136.44 588.61,137.31 588.56,138.18 588.53,139.05 588.52,139.92 588.53,140.78 588.55,141.63 588.59,142.47 588.65,143.31 588.73,144.14 588.82,144.95 588.93,145.75 589.05,146.54 589.20,147.31 589.36,148.07 589.53,148.81 589.72,149.53 589.93,150.24 590.16,150.92 590.40,151.58 590.65,152.22 590.92,152.84 591.20,153.43 591.49,154.00 591.80,154.54 592.12,155.05 592.46,155.54 592.80,156.00 593.16,156.43 593.52,156.83 593.89,157.21 594.28,157.55 594.66,157.86 595.06,158.14 595.47,158.39 595.87,158.60 596.29,158.78 596.71,158.93 597.13,159.05 597.55,159.13 597.97,159.18 598.40,159.20 598.83,159.18 599.25,159.13 599.67,159.05 600.09,158.93 600.51,158.78 600.93,158.60 601.33,158.39 601.74,158.14 602.14,157.86 602.52,157.55 602.91,157.21 603.28,156.83 603.64,156.43 604.00,156.00 604.34,155.54 604.68,155.05 605.00,154.54 605.31,154.00 605.60,153.43 605.88,152.84 606.15,152.22 606.40,151.58 606.64,150.92 606.87,150.24 607.08,149.53 607.27,148.81 607.44,148.07 607.60,147.31 607.75,146.54 607.87,145.75 607.98,144.95 608.07,144.14 608.15,143.31 608.21,142.47 608.25,141.63 608.27,140.78 608.28,139.92 608.27,139.05 608.24,138.18 608.19,137.31 608.13,136.44 608.06,135.56 607.97,134.69 607.86,133.81 607.74,132.94 607.60,132.08 607.45,131.22 607.29,130.36 607.11,129.51 606.92,128.67 606.72,127.84 606.51,127.03 606.29,126.22 606.05,125.42 605.81,124.64 605.56,123.87 605.31,123.12 605.04,122.39 604.77,121.67 604.50,120.97 604.22,120.28 603.94,119.62 603.66,118.98 603.37,118.35 603.08,117.75 602.80,117.17 602.51,116.61 602.23,116.08 601.95,115.57 601.67,115.08 601.40,114.61 601.14,114.17 600.88,113.75 600.63,113.36 600.39,112.99 600.16,112.65 599.94,112.33 599.73,112.04 599.53,111.77 599.35,111.53 599.18,111.31 599.02,111.11 598.88,110.94 598.76,110.80 598.65,110.67 598.56,110.57 598.49,110.50 598.44,110.44 598.41,110.41 598.40,110.40 598.41,110.41 598.44,110.44 598.50,110.49 598.57,110.56 598.67,110.65 598.80,110.76 598.94,110.88 599.11,111.02 599.31,111.18 599.53,111.35 599.77,111.53 600.04,111.73 600.33,111.94 600.65,112.16 600.99,112.39 601.36,112.63 601.75,112.88 602.17,113.14 602.61,113.40 603.08,113.67 603.57,113.95 604.08,114.23 604.61,114.51 605.17,114.80 605.75,115.08 606.35,115.37 606.98,115.66 607.62,115.94 608.28,116.22 608.97,116.50 609.67,116.77 610.39,117.04 611.12,117.31 611.87,117.56 612.64,117.81 613.42,118.05 614.22,118.29 615.03,118.51 615.84,118.72 616.67,118.92 617.51,119.11 618.36,119.29 619.22,119.45 620.08,119.60 620.94,119.74 621.81,119.86 622.69,119.97 623.56,120.06 624.44,120.13 625.31,120.19 626.18,120.24 627.05,120.27 627.92,120.28 628.78,120.27 629.63,120.25 630.47,120.21 631.31,120.15 632.14,120.07 632.95,119.98 633.75,119.87 634.54,119.75 635.31,119.60 636.07,119.44 636.81,119.27 637.53,119.08 638.24,118.87 638.92,118.64 639.58,118.40 640.22,118.15 640.84,117.88 641.43,117.60 642.00,117.31 642.54,117.00 643.05,116.68 643.54,116.34 644.00,116.00 644.43,115.64 644.83,115.28 645.21,114.91 645.55,114.52 645.86,114.14 646.14,113.74 646.39,113.33 646.60,112.93 646.78,112.51 646.93,112.09 647.05,111.67 647.13,111.25 647.18,110.83 647.20,110.40" fill="none" stroke="#000" stroke-width="2.0" stroke-linejoin="round"/>
<text x="515.7" y="36.4" font-family="'Liberation Serif','Times New Roman',serif" font-size="20.8" font-weight="bold" fill="#000" stroke="#000" stroke-width="0.3" text-anchor="start" >(c)</text>
<rect x="619.9" y="3.3" width="8.2" height="8.2" rx="1.4" fill="#000"/>
<circle cx="624" cy="31" r="4.65" fill="url(#gr)"/>
<text x="645" y="12.6" font-family="'Liberation Serif','Times New Roman',serif" font-size="14.8" font-weight="bold" fill="#000" stroke="#000" stroke-width="0.3" text-anchor="start" >B</text>
<text x="655.3" y="6.8" font-family="'Liberation Serif','Times New Roman',serif" font-size="10" font-weight="bold" fill="#000" stroke="#000" stroke-width="0.25" text-anchor="start" >2</text>
<text x="659.6" y="16.6" font-family="'Liberation Serif','Times New Roman',serif" font-size="10" font-weight="bold" fill="#000" stroke="#000" stroke-width="0.25" text-anchor="start" >g</text>
<text x="667.3" y="12.6" font-family="'Liberation Serif','Times New Roman',serif" font-size="14" font-weight="bold" fill="#000" stroke="#000" stroke-width="0.3" text-anchor="start" >(1)</text>
<text x="645" y="36.1" font-family="'Liberation Serif','Times New Roman',serif" font-size="14.8" font-weight="bold" fill="#ff0000" stroke="#ff0000" stroke-width="0.3" text-anchor="start" >B</text>
<text x="655.3" y="30.3" font-family="'Liberation Serif','Times New Roman',serif" font-size="10" font-weight="bold" fill="#ff0000" stroke="#ff0000" stroke-width="0.25" text-anchor="start" >2</text>
<text x="659.6" y="40.1" font-family="'Liberation Serif','Times New Roman',serif" font-size="10" font-weight="bold" fill="#ff0000" stroke="#ff0000" stroke-width="0.25" text-anchor="start" >g</text>
<text x="668.8" y="36.1" font-family="'Liberation Serif','Times New Roman',serif" font-size="14" font-weight="bold" fill="#ff0000" stroke="#ff0000" stroke-width="0.3" text-anchor="start" >(2)</text>
</g>
<g id="panel-d">
<polyline points="31.00,360.8 31.10,360.4 31.20,360.9 31.30,373.8 31.40,365.2 31.50,365.0 31.61,371.8 31.71,359.9 31.81,362.9 31.91,370.6 32.01,366.2 32.11,369.2 32.21,369.8 32.31,365.8 32.41,360.7 32.51,377.1 32.61,367.5 32.72,369.4 32.82,370.3 32.92,374.9 33.02,367.7 33.12,378.0 33.22,367.2 33.32,369.9 33.42,363.9 33.52,367.2 33.62,375.1 33.72,373.8 33.83,363.6 33.93,367.4 34.03,363.1 34.13,367.8 34.23,363.7 34.33,370.3 34.43,370.6 34.53,369.9 34.63,360.6 34.73,366.8 34.83,366.4 34.94,355.9 35.04,366.0 35.14,362.3 35.24,359.4 35.34,363.3 35.44,372.5 35.54,366.0 35.64,358.2 35.74,372.9 35.84,364.8 35.94,366.6 36.05,367.4 36.15,357.3 36.25,368.2 36.35,370.0 36.45,370.2 36.55,363.8 36.65,363.0 36.75,362.7 36.85,365.8 36.95,365.0 37.05,369.1 37.15,363.6 37.26,368.5 37.36,359.5 37.46,356.0 37.56,366.0 37.66,360.7 37.76,368.3 37.86,370.1 37.96,362.2 38.06,371.5 38.16,365.1 38.26,368.9 38.37,358.5 38.47,369.3 38.57,359.0 38.67,365.0 38.77,370.4 38.87,371.2 38.97,356.1 39.07,368.3 39.17,359.9 39.27,365.1 39.37,364.7 39.48,365.7 39.58,372.2 39.68,361.6 39.78,365.4 39.88,364.9 39.98,370.1 40.08,369.4 40.18,367.8 40.28,362.6 40.38,370.6 40.48,361.7 40.59,363.9 40.69,362.9 40.79,368.7 40.89,370.0 40.99,369.9 41.09,367.1 41.19,369.0 41.29,372.5 41.39,373.4 41.49,370.3 41.59,367.6 41.70,364.2 41.80,374.3 41.90,377.3 42.00,364.1 42.10,366.0 42.20,368.8 42.30,367.6 42.40,361.3 42.50,361.5 42.60,366.2 42.70,362.5 42.81,372.2 42.91,358.6 43.01,360.6 43.11,367.9 43.21,363.3 43.31,373.3 43.41,367.6 43.51,373.5 43.61,370.9 43.71,363.3 43.81,360.2 43.92,370.2 44.02,369.3 44.12,364.9 44.22,364.0 44.32,365.2 44.42,371.0 44.52,366.6 44.62,375.7 44.72,370.1 44.82,365.7 44.92,364.7 45.03,367.0 45.13,360.1 45.23,362.3 45.33,378.2 45.43,374.1 45.53,364.2 45.63,361.0 45.73,366.7 45.83,368.2 45.93,365.0 46.03,370.2 46.14,363.3 46.24,375.7 46.34,367.0 46.44,368.3 46.54,363.9 46.64,362.5 46.74,368.3 46.84,365.0 46.94,373.3 47.04,373.7 47.14,370.1 47.24,371.6 47.35,362.8 47.45,370.5 47.55,364.4 47.65,370.2 47.75,363.3 47.85,365.5 47.95,367.6 48.05,361.6 48.15,368.9 48.25,370.4 48.35,364.6 48.46,369.9 48.56,361.9 48.66,361.8 48.76,356.5 48.86,358.6 48.96,359.0 49.06,358.4 49.16,372.7 49.26,369.4 49.36,366.3 49.46,357.9 49.57,368.8 49.67,367.3 49.77,368.1 49.87,364.4 49.97,366.0 50.07,355.3 50.17,377.5 50.27,361.0 50.37,362.4 50.47,367.4 50.57,364.9 50.68,376.1 50.78,366.4 50.88,366.4 50.98,364.8 51.08,369.7 51.18,361.8 51.28,371.8 51.38,372.3 51.48,364.0 51.58,362.0 51.68,354.7 51.79,371.2 51.89,363.6 51.99,366.2 52.09,371.0 52.19,370.6 52.29,373.8 52.39,363.7 52.49,368.0 52.59,363.7 52.69,365.5 52.79,371.0 52.90,367.5 53.00,365.9 53.10,374.8 53.20,370.8 53.30,370.2 53.40,369.5 53.50,371.5 53.60,371.3 53.70,364.7 53.80,364.4 53.90,360.2 54.01,363.2 54.11,373.3 54.21,363.2 54.31,369.2 54.41,364.2 54.51,368.1 54.61,367.2 54.71,364.0 54.81,362.0 54.91,366.9 55.01,370.6 55.12,372.7 55.22,368.2 55.32,363.5 55.42,359.2 55.52,366.3 55.62,369.0 55.72,365.8 55.82,369.1 55.92,362.1 56.02,367.6 56.12,367.5 56.23,370.6 56.33,370.9 56.43,362.9 56.53,360.5 56.63,364.3 56.73,366.6 56.83,370.4 56.93,376.5 57.03,378.4 57.13,363.6 57.23,368.9 57.34,377.8 57.44,378.6 57.54,371.3 57.64,361.2 57.74,367.3 57.84,368.0 57.94,361.8 58.04,367.1 58.14,365.5 58.24,361.2 58.34,364.3 58.44,364.7 58.55,370.4 58.65,359.0 58.75,363.6 58.85,362.2 58.95,357.5 59.05,369.4 59.15,363.9 59.25,368.5 59.35,367.7 59.45,362.3 59.55,359.3 59.66,378.6 59.76,363.2 59.86,362.9 59.96,366.0 60.06,368.3 60.16,356.1 60.26,369.0 60.36,368.0 60.46,367.4 60.56,363.5 60.66,369.9 60.77,363.2 60.87,371.8 60.97,358.5 61.07,372.6 61.17,361.3 61.27,362.8 61.37,369.0 61.47,369.7 61.57,371.4 61.67,365.0 61.77,369.9 61.88,363.2 61.98,375.7 62.08,364.6 62.18,362.9 62.28,371.9 62.38,371.2 62.48,372.1 62.58,364.3 62.68,361.9 62.78,370.5 62.88,366.9 62.99,354.6 63.09,365.0 63.19,364.0 63.29,362.1 63.39,366.1 63.49,370.1 63.59,363.9 63.69,364.8 63.79,364.7 63.89,362.1 63.99,370.9 64.10,366.1 64.20,357.8 64.30,374.1 64.40,362.5 64.50,369.9 64.60,370.8 64.70,376.5 64.80,360.0 64.90,359.8 65.00,358.4 65.10,361.0 65.21,364.2 65.31,370.1 65.41,364.0 65.51,366.9 65.61,366.3 65.71,367.5 65.81,369.0 65.91,366.5 66.01,365.8 66.11,362.6 66.21,362.1 66.32,370.7 66.42,364.9 66.52,360.9 66.62,371.9 66.72,365.8 66.82,374.0 66.92,361.4 67.02,369.4 67.12,360.7 67.22,364.6 67.32,367.6 67.43,364.2 67.53,365.5 67.63,369.9 67.73,362.9 67.83,371.5 67.93,362.6 68.03,367.6 68.13,363.9 68.23,366.4 68.33,367.6 68.43,368.6 68.53,366.5 68.64,367.0 68.74,361.9 68.84,354.6 68.94,370.8 69.04,367.5 69.14,371.6 69.24,363.2 69.34,368.5 69.44,374.1 69.54,368.6 69.64,366.9 69.75,371.8 69.85,363.8 69.95,366.2 70.05,370.6 70.15,356.3 70.25,377.7 70.35,371.3 70.45,360.6 70.55,365.6 70.65,368.6 70.75,372.9 70.86,367.9 70.96,360.5 71.06,366.2 71.16,366.3 71.26,366.3 71.36,357.7 71.46,371.7 71.56,361.0 71.66,376.2 71.76,363.8 71.86,357.8 71.97,361.9 72.07,367.4 72.17,364.6 72.27,371.2 72.37,372.0 72.47,365.8 72.57,364.0 72.67,367.6 72.77,368.2 72.87,364.7 72.97,366.2 73.08,370.6 73.18,362.2 73.28,362.4 73.38,364.5 73.48,364.3 73.58,366.3 73.68,368.5 73.78,365.5 73.88,371.4 73.98,371.5 74.08,361.5 74.19,365.4 74.29,359.7 74.39,366.3 74.49,370.6 74.59,358.9 74.69,372.0 74.79,366.6 74.89,363.9 74.99,368.5 75.09,368.0 75.19,363.0 75.30,377.0 75.40,370.9 75.50,372.9 75.60,370.9 75.70,362.7 75.80,365.2 75.90,361.7 76.00,368.2 76.10,361.2 76.20,366.0 76.30,365.9 76.41,368.8 76.51,356.2 76.61,367.5 76.71,364.5 76.81,359.2 76.91,363.9 77.01,371.1 77.11,367.8 77.21,362.1 77.31,363.8 77.41,358.7 77.52,356.6 77.62,363.9 77.72,364.4 77.82,368.6 77.92,368.0 78.02,365.0 78.12,368.6 78.22,357.1 78.32,365.1 78.42,373.8 78.52,361.7 78.63,367.6 78.73,361.8 78.83,366.4 78.93,363.6 79.03,362.3 79.13,367.8 79.23,373.4 79.33,368.5 79.43,364.2 79.53,364.4 79.63,365.0 79.73,371.7 79.84,362.5 79.94,368.2 80.04,370.2 80.14,368.3 80.24,361.7 80.34,365.0 80.44,374.4 80.54,365.6 80.64,365.2 80.74,358.1 80.84,369.7 80.95,372.1 81.05,363.3 81.15,362.8 81.25,363.1 81.35,370.3 81.45,365.6 81.55,372.5 81.65,366.0 81.75,361.4 81.85,364.9 81.95,367.9 82.06,366.4 82.16,365.9 82.26,371.0 82.36,376.2 82.46,372.6 82.56,371.7 82.66,366.1 82.76,371.0 82.86,360.6 82.96,369.2 83.06,378.5 83.17,354.6 83.27,367.0 83.37,359.5 83.47,366.3 83.57,370.0 83.67,354.6 83.77,370.0 83.87,367.3 83.97,362.4 84.07,367.5 84.17,366.5 84.28,367.1 84.38,366.3 84.48,365.3 84.58,358.4 84.68,363.1 84.78,366.3 84.88,366.3 84.98,362.4 85.08,372.7 85.18,365.9 85.28,370.7 85.39,358.3 85.49,365.5 85.59,369.0 85.69,355.2 85.79,369.1 85.89,369.4 85.99,365.6 86.09,364.7 86.19,368.5 86.29,366.5 86.39,374.6 86.50,361.1 86.60,359.7 86.70,369.1 86.80,367.0 86.90,365.9 87.00,363.3 87.10,364.8 87.20,361.5 87.30,369.5 87.40,368.7 87.50,365.9 87.61,364.2 87.71,372.5 87.81,356.0 87.91,372.1 88.01,363.0 88.11,359.9 88.21,364.7 88.31,370.6 88.41,361.6 88.51,361.2 88.61,362.3 88.72,370.9 88.82,363.3 88.92,367.5 89.02,378.6 89.12,366.3 89.22,365.0 89.32,369.4 89.42,367.3 89.52,366.3 89.62,368.7 89.72,363.1 89.82,369.3 89.93,362.0 90.03,365.1 90.13,362.2 90.23,369.9 90.33,374.5 90.43,365.5 90.53,362.2 90.63,369.7 90.73,363.1 90.83,362.5 90.93,368.9 91.04,367.1 91.14,369.5 91.24,363.6 91.34,371.4 91.44,359.2 91.54,360.7 91.64,369.9 91.74,367.2 91.84,367.5 91.94,361.8 92.04,365.6 92.15,370.8 92.25,375.4 92.35,361.2 92.45,368.3 92.55,358.7 92.65,365.3 92.75,362.7 92.85,363.9 92.95,370.4 93.05,374.7 93.15,366.4 93.26,362.7 93.36,367.8 93.46,375.6 93.56,370.6 93.66,371.2 93.76,365.7 93.86,362.6 93.96,358.8 94.06,360.8 94.16,372.8 94.26,365.4 94.37,366.7 94.47,363.3 94.57,371.7 94.67,366.2 94.77,364.7 94.87,358.4 94.97,361.7 95.07,374.2 95.17,368.1 95.27,366.1 95.37,358.1 95.48,359.6 95.58,371.8 95.68,360.9 95.78,369.9 95.88,365.6 95.98,357.4 96.08,372.4 96.18,364.2 96.28,371.2 96.38,367.8 96.48,358.6 96.59,367.2 96.69,373.5 96.79,367.4 96.89,369.3 96.99,367.0 97.09,372.5 97.19,375.7 97.29,360.5 97.39,370.1 97.49,364.9 97.59,368.5 97.70,372.6 97.80,366.4 97.90,377.2 98.00,369.7 98.10,362.6 98.20,368.4 98.30,370.3 98.40,370.5 98.50,360.3 98.60,368.8 98.70,368.5 98.81,365.9 98.91,368.4 99.01,365.0 99.11,375.2 99.21,367.0 99.31,367.7 99.41,365.5 99.51,372.7 99.61,368.2 99.71,374.0 99.81,365.9 99.92,365.0 100.02,375.4 100.12,360.8 100.22,366.6 100.32,371.1 100.42,357.9 100.52,358.6 100.62,376.8 100.72,365.7 100.82,361.2 100.92,365.1 101.02,369.9 101.13,361.3 101.23,367.1 101.33,368.6 101.43,371.7 101.53,364.3 101.63,368.2 101.73,367.2 101.83,363.7 101.93,362.2 102.03,367.6 102.13,359.5 102.24,372.3 102.34,365.6 102.44,359.3 102.54,355.4 102.64,365.9 102.74,364.0 102.84,368.4 102.94,366.2 103.04,368.4 103.14,366.6 103.24,369.9 103.35,369.6 103.45,357.4 103.55,370.9 103.65,368.2 103.75,365.9 103.85,367.6 103.95,368.1 104.05,369.8 104.15,365.0 104.25,367.7 104.35,368.8 104.46,362.7 104.56,356.9 104.66,361.2 104.76,361.3 104.86,366.1 104.96,371.3 105.06,362.8 105.16,362.1 105.26,369.8 105.36,365.4 105.46,360.2 105.57,359.9 105.67,363.0 105.77,364.4 105.87,365.4 105.97,371.6 106.07,362.2 106.17,362.4 106.27,376.0 106.37,361.3 106.47,362.8 106.57,375.5 106.68,365.4 106.78,364.0 106.88,364.3 106.98,369.1 107.08,364.6 107.18,371.6 107.28,367.4 107.38,360.9 107.48,362.0 107.58,371.4 107.68,361.5 107.79,373.4 107.89,364.9 107.99,368.1 108.09,368.0 108.19,367.7 108.29,366.4 108.39,365.2 108.49,357.7 108.59,371.4 108.69,359.8 108.79,372.6 108.90,368.3 109.00,372.7 109.10,366.9 109.20,365.2 109.30,359.2 109.40,368.7 109.50,369.2 109.60,361.7 109.70,367.3 109.80,372.5 109.90,369.9 110.01,364.1 110.11,363.0 110.21,368.6 110.31,378.5 110.41,371.3 110.51,366.9 110.61,368.6 110.71,371.0 110.81,366.9 110.91,361.7 111.01,359.7 111.11,365.0 111.22,370.9 111.32,370.6 111.42,370.6 111.52,369.4 111.62,363.1 111.72,368.1 111.82,362.5 111.92,368.0 112.02,363.5 112.12,378.5 112.22,369.3 112.33,363.6 112.43,366.4 112.53,372.0 112.63,368.0 112.73,361.5 112.83,366.3 112.93,361.9 113.03,370.3 113.13,369.7 113.23,368.6 113.33,362.2 113.44,368.8 113.54,364.1 113.64,357.9 113.74,359.9 113.84,365.6 113.94,365.6 114.04,361.0 114.14,366.1 114.24,360.8 114.34,363.1 114.44,367.0 114.55,365.4 114.65,364.4 114.75,367.3 114.85,362.1 114.95,371.6 115.05,370.3 115.15,367.1 115.25,368.7 115.35,378.4 115.45,366.2 115.55,359.5 115.66,373.9 115.76,377.5 115.86,371.4 115.96,357.4 116.06,366.7 116.16,357.3 116.26,360.0 116.36,370.4 116.46,367.0 116.56,363.4 116.66,359.9 116.77,375.6 116.87,362.8 116.97,364.8 117.07,362.4 117.17,363.9 117.27,366.7 117.37,369.3 117.47,370.9 117.57,361.9 117.67,369.9 117.77,373.1 117.88,367.5 117.98,361.8 118.08,362.7 118.18,362.2 118.28,369.0 118.38,358.5 118.48,364.2 118.58,353.7 118.68,363.0 118.78,364.6 118.88,366.9 118.99,369.6 119.09,356.7 119.19,363.8 119.29,364.6 119.39,366.1 119.49,367.8 119.59,364.1 119.69,362.1 119.79,361.2 119.89,368.3 119.99,362.4 120.10,365.4 120.20,365.9 120.30,368.9 120.40,365.7 120.50,357.0 120.60,364.2 120.70,363.8 120.80,364.3 120.90,374.1 121.00,364.1 121.10,363.4 121.21,358.4 121.31,362.9 121.41,363.7 121.51,364.4 121.61,361.7 121.71,365.9 121.81,370.4 121.91,371.8 122.01,360.6 122.11,365.9 122.21,359.4 122.31,365.4 122.42,366.4 122.52,370.0 122.62,357.9 122.72,358.4 122.82,363.7 122.92,354.1 123.02,371.2 123.12,369.7 123.22,370.1 123.32,363.1 123.42,352.9 123.53,365.4 123.63,363.8 123.73,365.4 123.83,364.2 123.93,353.8 124.03,366.8 124.13,356.9 124.23,362.8 124.33,356.5 124.43,368.3 124.53,359.0 124.64,356.3 124.74,357.4 124.84,361.7 124.94,367.6 125.04,359.6 125.14,367.4 125.24,355.2 125.34,356.4 125.44,354.5 125.54,363.6 125.64,358.5 125.75,356.8 125.85,363.0 125.95,356.0 126.05,356.5 126.15,355.3 126.25,354.0 126.35,350.3 126.45,345.6 126.55,358.1 126.65,356.6 126.75,363.3 126.86,359.2 126.96,352.2 127.06,360.0 127.16,354.0 127.26,348.8 127.36,356.3 127.46,365.4 127.56,361.2 127.66,354.8 127.76,357.5 127.86,359.4 127.97,353.1 128.07,351.5 128.17,348.6 128.27,356.0 128.37,350.1 128.47,356.2 128.57,348.3 128.67,345.1 128.77,351.6 128.87,346.4 128.97,360.8 129.08,353.7 129.18,355.0 129.28,351.9 129.38,352.7 129.48,341.9 129.58,346.8 129.68,358.5 129.78,350.6 129.88,352.1 129.98,345.7 130.08,334.6 130.19,350.9 130.29,354.9 130.39,349.1 130.49,356.3 130.59,344.6 130.69,348.1 130.79,350.4 130.89,337.2 130.99,347.6 131.09,339.3 131.19,340.8 131.30,352.8 131.40,345.3 131.50,340.3 131.60,346.8 131.70,344.9 131.80,344.5 131.90,348.9 132.00,342.9 132.10,341.7 132.20,333.5 132.30,335.6 132.40,344.8 132.51,345.1 132.61,348.9 132.71,341.4 132.81,340.7 132.91,350.5 133.01,343.7 133.11,337.9 133.21,345.0 133.31,331.7 133.41,343.8 133.51,344.5 133.62,340.7 133.72,350.4 133.82,333.4 133.92,345.0 134.02,344.6 134.12,337.0 134.22,346.9 134.32,325.8 134.42,341.5 134.52,325.6 134.62,335.8 134.73,329.1 134.83,345.2 134.93,336.0 135.03,338.9 135.13,332.3 135.23,333.7 135.33,334.2 135.43,342.2 135.53,339.7 135.63,330.8 135.73,334.4 135.84,328.6 135.94,338.8 136.04,329.4 136.14,341.7 136.24,321.8 136.34,329.6 136.44,326.0 136.54,344.7 136.64,338.9 136.74,339.8 136.84,333.4 136.95,332.3 137.05,345.9 137.15,335.8 137.25,331.8 137.35,336.6 137.45,334.4 137.55,334.8 137.65,332.4 137.75,326.4 137.85,336.3 137.95,339.8 138.06,332.3 138.16,325.2 138.26,335.3 138.36,337.8 138.46,315.8 138.56,335.0 138.66,332.5 138.76,322.0 138.86,331.0 138.96,325.8 139.06,333.4 139.17,340.3 139.27,338.0 139.37,326.5 139.47,331.1 139.57,329.5 139.67,338.3 139.77,320.3 139.87,317.0 139.97,323.8 140.07,325.8 140.17,328.9 140.28,323.7 140.38,318.1 140.48,327.5 140.58,328.3 140.68,330.3 140.78,322.9 140.88,317.6 140.98,327.7 141.08,320.4 141.18,318.8 141.28,320.4 141.39,327.8 141.49,325.0 141.59,344.0 141.69,334.2 141.79,330.7 141.89,324.8 141.99,343.3 142.09,337.0 142.19,328.6 142.29,337.0 142.39,337.1 142.49,349.9 142.60,336.9 142.70,336.1 142.80,334.6 142.90,348.8 143.00,342.0 143.10,346.3 143.20,340.9 143.30,351.7 143.40,340.2 143.50,345.0 143.60,345.2 143.71,345.8 143.81,355.3 143.91,339.5 144.01,343.2 144.11,351.0 144.21,342.9 144.31,345.9 144.41,346.1 144.51,350.3 144.61,345.3 144.71,345.5 144.82,349.1 144.92,350.6 145.02,357.1 145.12,351.1 145.22,342.9 145.32,352.7 145.42,348.3 145.52,343.9 145.62,352.5 145.72,352.4 145.82,346.2 145.93,341.0 146.03,353.8 146.13,347.1 146.23,344.4 146.33,343.2 146.43,346.0 146.53,355.7 146.63,354.4 146.73,350.0 146.83,359.3 146.93,346.5 147.04,344.0 147.14,355.5 147.24,358.8 147.34,360.5 147.44,356.0 147.54,347.2 147.64,362.2 147.74,348.1 147.84,354.0 147.94,350.2 148.04,350.7 148.15,359.8 148.25,365.7 148.35,351.4 148.45,358.7 148.55,357.8 148.65,357.2 148.75,358.9 148.85,356.0 148.95,346.9 149.05,348.0 149.15,366.5 149.26,360.8 149.36,354.3 149.46,364.1 149.56,346.0 149.66,359.2 149.76,356.3 149.86,358.4 149.96,356.7 150.06,348.6 150.16,351.4 150.26,356.3 150.37,353.4 150.47,356.9 150.57,354.2 150.67,338.2 150.77,349.2 150.87,352.5 150.97,355.6 151.07,359.5 151.17,364.6 151.27,356.5 151.37,359.8 151.48,347.5 151.58,350.9 151.68,345.8 151.78,345.4 151.88,341.4 151.98,345.6 152.08,343.2 152.18,344.0 152.28,348.2 152.38,327.8 152.48,354.7 152.59,347.1 152.69,346.9 152.79,334.9 152.89,323.7 152.99,351.6 153.09,334.8 153.19,335.7 153.29,327.5 153.39,333.8 153.49,345.9 153.59,334.0 153.69,344.8 153.80,339.8 153.90,326.9 154.00,322.1 154.10,332.1 154.20,325.5 154.30,335.7 154.40,326.7 154.50,322.9 154.60,334.5 154.70,327.6 154.80,333.3 154.91,310.8 155.01,308.1 155.11,317.2 155.21,322.3 155.31,320.5 155.41,308.1 155.51,321.7 155.61,316.8 155.71,334.5 155.81,336.4 155.91,317.1 156.02,320.8 156.12,321.0 156.22,302.8 156.32,316.5 156.42,313.5 156.52,329.9 156.62,312.8 156.72,329.2 156.82,308.8 156.92,311.4 157.02,293.2 157.13,315.1 157.23,311.6 157.33,317.4 157.43,315.7 157.53,297.4 157.63,314.2 157.73,289.5 157.83,295.7 157.93,305.5 158.03,319.8 158.13,306.3 158.24,316.4 158.34,310.9 158.44,309.8 158.54,317.2 158.64,297.5 158.74,322.0 158.84,322.8 158.94,319.2 159.04,307.5 159.14,309.5 159.24,311.0 159.35,328.0 159.45,321.3 159.55,335.8 159.65,307.9 159.75,322.8 159.85,318.2 159.95,325.2 160.05,312.8 160.15,327.5 160.25,326.1 160.35,329.3 160.46,327.5 160.56,323.8 160.66,336.8 160.76,320.9 160.86,338.7 160.96,345.9 161.06,335.5 161.16,329.5 161.26,343.2 161.36,344.7 161.46,352.4 161.57,345.5 161.67,331.9 161.77,343.2 161.87,355.1 161.97,350.3 162.07,342.4 162.17,345.3 162.27,348.6 162.37,352.9 162.47,360.5 162.57,351.4 162.68,357.1 162.78,355.7 162.88,355.1 162.98,357.8 163.08,351.4 163.18,362.3 163.28,364.0 163.38,368.5 163.48,366.4 163.58,366.1 163.68,362.5 163.78,363.2 163.89,367.7 163.99,370.3 164.09,363.6 164.19,370.0 164.29,367.6 164.39,371.8 164.49,371.6 164.59,367.4 164.69,362.0 164.79,374.9 164.89,376.7 165.00,376.6 165.10,372.2 165.20,366.3 165.30,363.7 165.40,374.6 165.50,377.9 165.60,370.4 165.70,379.1 165.80,374.2 165.90,369.3 166.00,374.9 166.11,375.0 166.21,377.9 166.31,377.4 166.41,374.1 166.51,377.7 166.61,376.8 166.71,364.3 166.81,378.5 166.91,377.7 167.01,373.3 167.11,372.3 167.22,373.2 167.32,383.7 167.42,384.0 167.52,385.5 167.62,375.5 167.72,383.0 167.82,377.9 167.92,386.5 168.02,390.3 168.12,377.4 168.22,373.3 168.33,374.7 168.43,388.7 168.53,387.8 168.63,376.2 168.73,380.9 168.83,380.3 168.93,376.5 169.03,382.6 169.13,381.2 169.23,374.7 169.33,382.6 169.44,381.9 169.54,375.1 169.64,390.9 169.74,380.3 169.84,390.1 169.94,379.8 170.04,390.9 170.14,387.7 170.24,388.7 170.34,386.0 170.44,374.6 170.55,390.5 170.65,383.6 170.75,394.2 170.85,383.2 170.95,391.3 171.05,387.6 171.15,379.4 171.25,383.6 171.35,386.2 171.45,380.8 171.55,388.8 171.66,383.9 171.76,376.7 171.86,384.7 171.96,384.1 172.06,394.5 172.16,381.9 172.26,374.4 172.36,381.5 172.46,395.8 172.56,383.5 172.66,386.2 172.77,378.0 172.87,389.7 172.97,381.9 173.07,394.3 173.17,387.4 173.27,392.0 173.37,387.8 173.47,388.9 173.57,372.2 173.67,387.8 173.77,384.8 173.88,390.2 173.98,391.4 174.08,377.7 174.18,379.9 174.28,378.4 174.38,382.9 174.48,384.0 174.58,381.9 174.68,386.2 174.78,377.9 174.88,386.7 174.98,385.8 175.09,383.4 175.19,385.0 175.29,375.1 175.39,371.2 175.49,388.3 175.59,384.4 175.69,379.3 175.79,385.3 175.89,388.8 175.99,389.5 176.09,384.8 176.20,383.0 176.30,384.9 176.40,382.9 176.50,381.5 176.60,385.3 176.70,396.7 176.80,394.2 176.90,377.1 177.00,388.3 177.10,386.2 177.20,396.1 177.31,385.7 177.41,387.6 177.51,381.3 177.61,382.9 177.71,381.8 177.81,386.1 177.91,385.5 178.01,384.4 178.11,398.4 178.21,383.6 178.31,389.9 178.42,385.9 178.52,388.2 178.62,384.9 178.72,380.4 178.82,385.1 178.92,393.3 179.02,384.5 179.12,390.7 179.22,384.5 179.32,374.5 179.42,387.6 179.53,384.6 179.63,384.6 179.73,387.7 179.83,381.3 179.93,383.4 180.03,384.6 180.13,384.4 180.23,383.7 180.33,382.4 180.43,393.9 180.53,389.6 180.64,383.1 180.74,390.6 180.84,384.0 180.94,389.4 181.04,380.6 181.14,373.8 181.24,394.7 181.34,384.6 181.44,388.6 181.54,390.9 181.64,382.3 181.75,381.8 181.85,386.1 181.95,389.0 182.05,371.4 182.15,385.2 182.25,382.5 182.35,388.4 182.45,378.9 182.55,386.8 182.65,387.4 182.75,385.5 182.86,388.9 182.96,380.3 183.06,381.7 183.16,390.2 183.26,391.0 183.36,376.3 183.46,388.0 183.56,376.6 183.66,376.4 183.76,380.3 183.86,388.3 183.97,393.6 184.07,387.2 184.17,388.8 184.27,385.3 184.37,381.7 184.47,383.8 184.57,388.4 184.67,392.0 184.77,398.5 184.87,383.4 184.97,387.3 185.07,386.8 185.18,395.4 185.28,382.0 185.38,383.0 185.48,388.8 185.58,384.2 185.68,380.4 185.78,386.7 185.88,382.8 185.98,386.5 186.08,386.3 186.18,383.5 186.29,383.4 186.39,381.0 186.49,389.9 186.59,388.4 186.69,373.3 186.79,386.5 186.89,377.8 186.99,386.3 187.09,379.1 187.19,388.4 187.29,393.2 187.40,397.5 187.50,383.1 187.60,389.3 187.70,387.3 187.80,388.9 187.90,388.6 188.00,387.2 188.10,386.0 188.20,380.1 188.30,393.2 188.40,387.8 188.51,394.6 188.61,380.0 188.71,388.5 188.81,382.5 188.91,386.5 189.01,389.5 189.11,392.5 189.21,383.3 189.31,383.4 189.41,385.8 189.51,385.9 189.62,391.5 189.72,379.5 189.82,382.0 189.92,376.8 190.02,381.6 190.12,385.9 190.22,391.2 190.32,384.1 190.42,380.3 190.52,381.1 190.62,379.1 190.73,388.3 190.83,386.5 190.93,387.8 191.03,381.4 191.13,390.1 191.23,393.3 191.33,398.5 191.43,384.9 191.53,384.7 191.63,391.0 191.73,386.3 191.84,392.3 191.94,385.9 192.04,388.9 192.14,381.8 192.24,373.1 192.34,384.0 192.44,384.7 192.54,385.6 192.64,384.1 192.74,394.6 192.84,383.0 192.95,378.9 193.05,385.0 193.15,390.0 193.25,388.7 193.35,382.2 193.45,384.6 193.55,379.8 193.65,385.7 193.75,389.7 193.85,381.5 193.95,386.2 194.06,388.2 194.16,380.9 194.26,383.9 194.36,387.6 194.46,389.1 194.56,386.5 194.66,394.8 194.76,386.1 194.86,387.6 194.96,392.4 195.06,387.8 195.17,384.7 195.27,384.2 195.37,395.8 195.47,388.5 195.57,386.3 195.67,379.5 195.77,383.7 195.87,387.6 195.97,390.6 196.07,385.7 196.17,382.7 196.27,371.5 196.38,392.2 196.48,381.7 196.58,373.5 196.68,389.0 196.78,394.9 196.88,381.1 196.98,389.1 197.08,391.4 197.18,393.9 197.28,383.5 197.38,381.2 197.49,384.6 197.59,388.4 197.69,383.3 197.79,384.0 197.89,388.4 197.99,392.8 198.09,390.7 198.19,398.5 198.29,380.8 198.39,384.3 198.49,389.1 198.60,388.1 198.70,380.4 198.80,393.5 198.90,384.0 199.00,395.1 199.10,391.7 199.20,385.9 199.30,387.0 199.40,390.0 199.50,386.8 199.60,377.6 199.71,378.7 199.81,380.5 199.91,387.5 200.01,381.7 200.11,383.3 200.21,384.3 200.31,384.0 200.41,381.3 200.51,380.8 200.61,384.1 200.71,384.7 200.82,386.7 200.92,387.0 201.02,393.1 201.12,382.8 201.22,391.8 201.32,381.6 201.42,389.5 201.52,385.9 201.62,385.3 201.72,391.1 201.82,390.6 201.93,386.5 202.03,385.9 202.13,381.6 202.23,393.8 202.33,390.6 202.43,395.5 202.53,381.2 202.63,383.8 202.73,378.3 202.83,382.0 202.93,390.3 203.04,382.3 203.14,385.5 203.24,392.7 203.34,373.9 203.44,391.3 203.54,375.7 203.64,380.5 203.74,382.7 203.84,385.6 203.94,388.7 204.04,393.4 204.15,386.9 204.25,385.2 204.35,385.2 204.45,393.6 204.55,381.6 204.65,381.5 204.75,391.3 204.85,386.9 204.95,375.0 205.05,385.8 205.15,394.9 205.26,387.1 205.36,387.7 205.46,381.5 205.56,382.2 205.66,376.3 205.76,378.4 205.86,383.4 205.96,383.9 206.06,381.6 206.16,380.0 206.26,387.5 206.36,382.5 206.47,389.2 206.57,392.6 206.67,392.9 206.77,383.3 206.87,386.3 206.97,377.0 207.07,392.2 207.17,392.7 207.27,390.9 207.37,384.5 207.47,380.6 207.58,385.4 207.68,385.2 207.78,379.5 207.88,384.5 207.98,386.0 208.08,392.5 208.18,388.5 208.28,387.2 208.38,388.2 208.48,382.7 208.58,387.7 208.69,378.6 208.79,383.8 208.89,382.9 208.99,398.5 209.09,380.5 209.19,380.4 209.29,386.9 209.39,387.9 209.49,396.8 209.59,386.0 209.69,387.5 209.80,384.3 209.90,374.6 210.00,382.1 210.10,382.1 210.20,387.2 210.30,382.0 210.40,380.0 210.50,395.2 210.60,382.4 210.70,390.0 210.80,380.8 210.91,388.1 211.01,389.3 211.11,387.5 211.21,374.3 211.31,376.7 211.41,385.2 211.51,384.9 211.61,383.6 211.71,382.2 211.81,373.3 211.91,396.0 212.02,382.5 212.12,385.7 212.22,384.0 212.32,385.9 212.42,384.7 212.52,380.9 212.62,383.3 212.72,382.3 212.82,391.1 212.92,386.8 213.02,389.5 213.13,387.5 213.23,385.8 213.33,382.5 213.43,384.2 213.53,383.5 213.63,386.9 213.73,391.4 213.83,380.5 213.93,389.0 214.03,386.9 214.13,385.2 214.24,383.0 214.34,392.7 214.44,381.0 214.54,391.4 214.64,377.4 214.74,376.4 214.84,382.0 214.94,391.5 215.04,379.6 215.14,387.5 215.24,382.1 215.35,380.8 215.45,386.2 215.55,380.2 215.65,391.9 215.75,384.2 215.85,380.5 215.95,377.8 216.05,379.4 216.15,393.4 216.25,379.1 216.35,382.3 216.46,390.4 216.56,383.1 216.66,378.4 216.76,388.3 216.86,385.3 216.96,381.9 217.06,371.5 217.16,389.0 217.26,386.2 217.36,380.7 217.46,371.5 217.56,371.5 217.67,382.2 217.77,381.9 217.87,383.4 217.97,373.7 218.07,382.0 218.17,381.7 218.27,377.7 218.37,379.2 218.47,378.9 218.57,386.8 218.67,388.5 218.78,381.0 218.88,378.5 218.98,387.5 219.08,383.8 219.18,384.2 219.28,375.2 219.38,382.3 219.48,382.4 219.58,385.0 219.68,382.5 219.78,383.0 219.89,394.2 219.99,383.0 220.09,392.1 220.19,375.2 220.29,379.4 220.39,387.3 220.49,382.7 220.59,386.9 220.69,378.3 220.79,387.7 220.89,385.1 221.00,387.0 221.10,385.5 221.20,392.5 221.30,386.1 221.40,387.1 221.50,383.7 221.60,383.3 221.70,385.2 221.80,385.0 221.90,381.0 222.00,386.8 222.11,371.5 222.21,381.5 222.31,396.5 222.41,378.9 222.51,383.7 222.61,389.3 222.71,384.3 222.81,393.2 222.91,385.1 223.01,387.7 223.11,380.2 223.22,386.0 223.32,384.7 223.42,380.3 223.52,385.1 223.62,383.9 223.72,378.9 223.82,384.4 223.92,373.6 224.02,388.0 224.12,380.0 224.22,385.6 224.33,383.6 224.43,386.2 224.53,387.3 224.63,382.6 224.73,380.6 224.83,385.6 224.93,395.8 225.03,377.6 225.13,380.2 225.23,376.1 225.33,384.9 225.44,374.1 225.54,385.7 225.64,379.8 225.74,380.0 225.84,389.5 225.94,386.1 226.04,392.6 226.14,394.9 226.24,383.0 226.34,384.3 226.44,390.7 226.55,394.4 226.65,381.5 226.75,386.5 226.85,389.1 226.95,392.8 227.05,387.7 227.15,397.0 227.25,381.1 227.35,374.7 227.45,388.3 227.55,384.2 227.65,381.2 227.76,386.4 227.86,374.8 227.96,374.8 228.06,381.8 228.16,379.8 228.26,380.3 228.36,388.2 228.46,384.3 228.56,391.4 228.66,388.0 228.76,387.2 228.87,380.3 228.97,390.0 229.07,393.3 229.17,384.1 229.27,386.1 229.37,381.8 229.47,385.1 229.57,378.7 229.67,398.5 229.77,382.7 229.87,383.5 229.98,385.6 230.08,389.7 230.18,383.8 230.28,374.6 230.38,390.4 230.48,380.9 230.58,384.5 230.68,382.0 230.78,384.2 230.88,375.2 230.98,380.9 231.09,381.6 231.19,382.9 231.29,380.0 231.39,371.5 231.49,387.3 231.59,385.9 231.69,384.4 231.79,396.2 231.89,385.2 231.99,384.8 232.09,375.6 232.20,385.3 232.30,381.9 232.40,393.0 232.50,391.3 232.60,386.2 232.70,389.2" fill="none" stroke="#000" stroke-width="1.05" stroke-linejoin="miter"/>
<polyline points="31.00,386.7 31.10,384.5 31.20,378.2 31.30,397.8 31.40,381.9 31.50,384.5 31.61,385.9 31.71,383.9 31.81,385.9 31.91,378.1 32.01,386.7 32.11,380.7 32.21,384.8 32.31,378.7 32.41,378.3 32.51,388.2 32.61,381.7 32.72,392.5 32.82,388.4 32.92,383.1 33.02,389.8 33.12,393.9 33.22,393.1 33.32,380.8 33.42,378.2 33.52,391.1 33.62,387.9 33.72,394.8 33.83,385.9 33.93,383.7 34.03,383.9 34.13,391.3 34.23,382.1 34.33,388.0 34.43,388.1 34.53,380.5 34.63,385.7 34.73,385.8 34.83,384.3 34.94,382.4 35.04,376.9 35.14,391.0 35.24,389.3 35.34,381.3 35.44,388.3 35.54,379.8 35.64,388.4 35.74,386.1 35.84,379.1 35.94,385.6 36.05,387.8 36.15,388.6 36.25,389.9 36.35,381.4 36.45,389.3 36.55,372.7 36.65,386.0 36.75,380.6 36.85,387.8 36.95,378.4 37.05,387.4 37.15,391.7 37.26,379.6 37.36,386.6 37.46,386.2 37.56,389.5 37.66,379.2 37.76,383.6 37.86,388.9 37.96,389.4 38.06,382.8 38.16,375.5 38.26,395.5 38.37,382.7 38.47,381.1 38.57,385.8 38.67,386.9 38.77,388.5 38.87,380.2 38.97,387.9 39.07,383.8 39.17,380.7 39.27,387.6 39.37,378.2 39.48,384.6 39.58,383.6 39.68,377.4 39.78,388.4 39.88,376.2 39.98,383.4 40.08,394.1 40.18,388.2 40.28,390.4 40.38,389.0 40.48,383.8 40.59,384.2 40.69,380.0 40.79,381.9 40.89,382.2 40.99,397.8 41.09,393.0 41.19,380.2 41.29,387.1 41.39,389.3 41.49,380.4 41.59,385.7 41.70,383.6 41.80,371.8 41.90,389.6 42.00,389.9 42.10,384.3 42.20,389.9 42.30,395.2 42.40,389.4 42.50,371.8 42.60,391.9 42.70,375.8 42.81,385.7 42.91,389.0 43.01,390.5 43.11,397.0 43.21,379.2 43.31,384.8 43.41,384.7 43.51,386.5 43.61,390.1 43.71,371.8 43.81,390.9 43.92,383.5 44.02,392.1 44.12,380.8 44.22,380.9 44.32,385.3 44.42,391.9 44.52,383.2 44.62,389.7 44.72,384.2 44.82,379.2 44.92,383.3 45.03,386.4 45.13,387.5 45.23,382.2 45.33,384.6 45.43,391.9 45.53,387.9 45.63,380.9 45.73,397.8 45.83,385.2 45.93,394.3 46.03,381.5 46.14,380.1 46.24,391.1 46.34,381.3 46.44,380.2 46.54,390.5 46.64,386.9 46.74,385.8 46.84,387.3 46.94,382.1 47.04,387.8 47.14,390.7 47.24,395.3 47.35,383.3 47.45,387.8 47.55,381.5 47.65,376.4 47.75,381.9 47.85,384.6 47.95,372.7 48.05,390.7 48.15,392.1 48.25,382.9 48.35,384.9 48.46,385.3 48.56,382.0 48.66,381.9 48.76,379.8 48.86,394.6 48.96,382.5 49.06,389.9 49.16,386.5 49.26,386.5 49.36,379.5 49.46,386.5 49.57,385.4 49.67,392.9 49.77,388.6 49.87,390.8 49.97,395.4 50.07,381.0 50.17,388.6 50.27,383.7 50.37,380.0 50.47,382.5 50.57,384.2 50.68,388.8 50.78,384.8 50.88,385.7 50.98,389.6 51.08,376.2 51.18,374.9 51.28,386.4 51.38,387.0 51.48,390.2 51.58,390.8 51.68,388.0 51.79,385.2 51.89,393.9 51.99,383.6 52.09,382.1 52.19,387.4 52.29,377.2 52.39,387.2 52.49,384.0 52.59,382.9 52.69,390.1 52.79,382.2 52.90,375.4 53.00,385.3 53.10,383.8 53.20,385.3 53.30,387.9 53.40,378.6 53.50,381.1 53.60,391.1 53.70,375.3 53.80,382.4 53.90,381.2 54.01,389.2 54.11,393.1 54.21,383.3 54.31,378.5 54.41,395.4 54.51,389.4 54.61,391.7 54.71,384.4 54.81,388.2 54.91,379.8 55.01,384.2 55.12,392.2 55.22,380.2 55.32,381.6 55.42,394.5 55.52,378.8 55.62,379.4 55.72,392.5 55.82,377.8 55.92,387.2 56.02,383.5 56.12,385.1 56.23,395.0 56.33,388.4 56.43,384.7 56.53,385.5 56.63,388.6 56.73,394.8 56.83,392.5 56.93,386.9 57.03,379.1 57.13,395.9 57.23,380.7 57.34,373.3 57.44,391.2 57.54,390.3 57.64,381.7 57.74,389.1 57.84,388.2 57.94,390.2 58.04,389.1 58.14,392.0 58.24,379.9 58.34,385.5 58.44,384.9 58.55,371.8 58.65,386.8 58.75,384.8 58.85,390.6 58.95,384.5 59.05,383.9 59.15,382.5 59.25,376.0 59.35,375.2 59.45,387.0 59.55,384.9 59.66,390.3 59.76,385.0 59.86,391.3 59.96,391.6 60.06,388.2 60.16,380.7 60.26,390.5 60.36,388.3 60.46,395.5 60.56,397.8 60.66,384.4 60.77,385.1 60.87,377.3 60.97,378.5 61.07,375.8 61.17,387.6 61.27,382.9 61.37,385.8 61.47,371.8 61.57,391.8 61.67,387.2 61.77,392.0 61.88,391.6 61.98,371.8 62.08,389.3 62.18,380.5 62.28,381.8 62.38,390.0 62.48,383.4 62.58,383.6 62.68,385.4 62.78,385.9 62.88,389.8 62.99,387.9 63.09,394.7 63.19,389.4 63.29,387.8 63.39,387.7 63.49,391.3 63.59,389.3 63.69,379.3 63.79,385.8 63.89,381.9 63.99,385.5 64.10,392.4 64.20,376.4 64.30,381.7 64.40,387.6 64.50,390.6 64.60,375.8 64.70,385.8 64.80,383.4 64.90,385.1 65.00,381.2 65.10,393.5 65.21,377.5 65.31,390.8 65.41,387.9 65.51,388.6 65.61,387.0 65.71,376.4 65.81,373.7 65.91,390.9 66.01,381.0 66.11,392.2 66.21,382.6 66.32,376.8 66.42,371.8 66.52,390.0 66.62,375.3 66.72,382.1 66.82,389.3 66.92,383.3 67.02,375.5 67.12,378.9 67.22,378.8 67.32,387.0 67.43,381.0 67.53,384.2 67.63,387.2 67.73,387.2 67.83,388.7 67.93,383.4 68.03,381.9 68.13,390.3 68.23,385.3 68.33,389.1 68.43,384.1 68.53,391.0 68.64,384.3 68.74,386.5 68.84,378.3 68.94,391.4 69.04,379.7 69.14,381.7 69.24,383.8 69.34,386.8 69.44,385.9 69.54,384.2 69.64,382.1 69.75,388.1 69.85,390.2 69.95,378.1 70.05,379.3 70.15,375.2 70.25,379.5 70.35,392.4 70.45,382.5 70.55,377.6 70.65,385.7 70.75,391.8 70.86,375.0 70.96,393.1 71.06,390.0 71.16,390.7 71.26,377.7 71.36,383.1 71.46,378.9 71.56,386.6 71.66,376.4 71.76,387.9 71.86,392.4 71.97,385.9 72.07,386.1 72.17,388.9 72.27,384.5 72.37,379.0 72.47,385.2 72.57,381.8 72.67,387.2 72.77,386.6 72.87,387.4 72.97,380.0 73.08,390.5 73.18,387.8 73.28,391.3 73.38,394.9 73.48,379.8 73.58,379.5 73.68,388.9 73.78,385.0 73.88,384.7 73.98,388.8 74.08,386.5 74.19,383.5 74.29,385.9 74.39,381.1 74.49,374.1 74.59,377.2 74.69,386.7 74.79,382.8 74.89,382.9 74.99,387.5 75.09,384.6 75.19,385.2 75.30,375.3 75.40,385.5 75.50,390.6 75.60,389.5 75.70,384.5 75.80,385.7 75.90,382.8 76.00,382.4 76.10,388.7 76.20,385.2 76.30,376.8 76.41,385.2 76.51,383.0 76.61,388.8 76.71,394.1 76.81,389.0 76.91,384.5 77.01,381.4 77.11,383.2 77.21,383.3 77.31,388.0 77.41,395.5 77.52,377.6 77.62,388.0 77.72,390.3 77.82,385.5 77.92,379.6 78.02,392.3 78.12,380.8 78.22,384.9 78.32,380.1 78.42,384.2 78.52,383.1 78.63,379.4 78.73,386.6 78.83,382.8 78.93,379.2 79.03,396.6 79.13,389.9 79.23,378.2 79.33,390.2 79.43,385.2 79.53,381.9 79.63,380.8 79.73,376.0 79.84,371.8 79.94,385.2 80.04,384.7 80.14,383.7 80.24,395.9 80.34,385.8 80.44,385.6 80.54,380.4 80.64,385.7 80.74,385.5 80.84,391.1 80.95,391.7 81.05,384.0 81.15,390.4 81.25,383.9 81.35,389.1 81.45,390.8 81.55,377.1 81.65,378.5 81.75,389.3 81.85,380.1 81.95,378.2 82.06,387.1 82.16,394.7 82.26,396.0 82.36,388.9 82.46,386.0 82.56,380.1 82.66,381.1 82.76,389.0 82.86,385.3 82.96,388.0 83.06,379.6 83.17,378.0 83.27,375.8 83.37,386.1 83.47,384.4 83.57,378.0 83.67,393.1 83.77,380.9 83.87,380.9 83.97,384.0 84.07,395.3 84.17,390.6 84.28,392.2 84.38,395.2 84.48,389.1 84.58,385.1 84.68,389.7 84.78,389.8 84.88,385.7 84.98,383.2 85.08,385.2 85.18,395.2 85.28,394.1 85.39,387.4 85.49,385.8 85.59,383.0 85.69,387.8 85.79,383.2 85.89,378.5 85.99,372.6 86.09,388.7 86.19,381.8 86.29,382.3 86.39,376.9 86.50,377.8 86.60,386.4 86.70,388.4 86.80,381.5 86.90,386.2 87.00,381.5 87.10,389.2 87.20,388.0 87.30,382.9 87.40,382.7 87.50,387.8 87.61,383.3 87.71,389.2 87.81,385.0 87.91,384.9 88.01,380.6 88.11,385.6 88.21,385.6 88.31,376.8 88.41,384.7 88.51,385.2 88.61,384.7 88.72,376.9 88.82,376.4 88.92,381.8 89.02,380.1 89.12,394.8 89.22,382.7 89.32,381.6 89.42,371.8 89.52,383.0 89.62,374.7 89.72,380.2 89.82,385.2 89.93,377.6 90.03,388.5 90.13,373.6 90.23,382.6 90.33,382.7 90.43,388.9 90.53,384.8 90.63,387.3 90.73,389.7 90.83,387.5 90.93,384.1 91.04,378.3 91.14,382.6 91.24,390.3 91.34,383.2 91.44,380.0 91.54,389.3 91.64,386.6 91.74,382.3 91.84,384.6 91.94,383.6 92.04,387.6 92.15,387.0 92.25,381.9 92.35,397.8 92.45,394.8 92.55,391.1 92.65,379.4 92.75,386.1 92.85,393.1 92.95,380.9 93.05,383.5 93.15,380.5 93.26,378.5 93.36,393.4 93.46,377.3 93.56,385.7 93.66,386.3 93.76,387.5 93.86,385.4 93.96,383.0 94.06,390.6 94.16,388.7 94.26,381.7 94.37,382.6 94.47,389.1 94.57,391.4 94.67,384.9 94.77,381.3 94.87,391.9 94.97,390.1 95.07,376.3 95.17,386.3 95.27,390.9 95.37,382.5 95.48,385.9 95.58,387.3 95.68,385.4 95.78,389.3 95.88,390.1 95.98,379.9 96.08,387.3 96.18,384.5 96.28,379.4 96.38,385.7 96.48,385.6 96.59,383.7 96.69,380.7 96.79,382.3 96.89,389.2 96.99,392.3 97.09,380.8 97.19,380.6 97.29,380.1 97.39,376.0 97.49,385.7 97.59,378.0 97.70,377.7 97.80,379.2 97.90,374.1 98.00,386.5 98.10,384.4 98.20,389.2 98.30,389.8 98.40,385.3 98.50,374.1 98.60,378.8 98.70,384.1 98.81,385.2 98.91,391.1 99.01,384.1 99.11,386.1 99.21,385.2 99.31,389.1 99.41,387.7 99.51,391.1 99.61,384.7 99.71,388.5 99.81,383.9 99.92,382.4 100.02,381.3 100.12,383.0 100.22,384.3 100.32,384.3 100.42,378.6 100.52,384.8 100.62,385.7 100.72,388.7 100.82,384.5 100.92,386.5 101.02,390.5 101.13,387.2 101.23,387.4 101.33,387.9 101.43,379.3 101.53,391.6 101.63,395.4 101.73,373.1 101.83,383.5 101.93,388.8 102.03,386.5 102.13,377.0 102.24,393.1 102.34,374.6 102.44,397.8 102.54,387.6 102.64,394.3 102.74,381.8 102.84,390.0 102.94,389.7 103.04,382.0 103.14,382.9 103.24,392.2 103.35,383.1 103.45,382.7 103.55,377.3 103.65,388.2 103.75,389.9 103.85,377.9 103.95,385.6 104.05,377.9 104.15,385.0 104.25,390.6 104.35,386.9 104.46,383.4 104.56,389.8 104.66,385.9 104.76,385.4 104.86,389.5 104.96,385.9 105.06,386.5 105.16,380.1 105.26,386.9 105.36,382.2 105.46,379.6 105.57,391.2 105.67,391.8 105.77,381.6 105.87,383.8 105.97,380.0 106.07,379.9 106.17,381.3 106.27,395.8 106.37,383.0 106.47,384.7 106.57,381.6 106.68,387.6 106.78,389.4 106.88,385.4 106.98,379.5 107.08,387.1 107.18,390.5 107.28,377.9 107.38,388.9 107.48,390.3 107.58,377.3 107.68,389.6 107.79,390.2 107.89,386.6 107.99,383.5 108.09,395.1 108.19,388.8 108.29,383.5 108.39,387.4 108.49,386.8 108.59,386.0 108.69,393.7 108.79,391.4 108.90,386.1 109.00,384.5 109.10,377.5 109.20,382.2 109.30,384.0 109.40,375.6 109.50,385.7 109.60,386.9 109.70,380.3 109.80,384.8 109.90,386.5 110.01,380.2 110.11,385.7 110.21,387.4 110.31,385.1 110.41,392.8 110.51,375.4 110.61,386.9 110.71,381.7 110.81,392.2 110.91,387.0 111.01,387.0 111.11,389.3 111.22,387.4 111.32,385.6 111.42,390.0 111.52,385.2 111.62,387.7 111.72,384.4 111.82,375.9 111.92,390.9 112.02,392.3 112.12,387.9 112.22,383.3 112.33,383.2 112.43,374.2 112.53,388.3 112.63,387.4 112.73,388.2 112.83,385.7 112.93,383.0 113.03,386.4 113.13,381.5 113.23,385.2 113.33,385.0 113.44,375.4 113.54,379.8 113.64,384.9 113.74,386.2 113.84,387.7 113.94,384.9 114.04,385.3 114.14,391.2 114.24,373.2 114.34,380.2 114.44,387.2 114.55,383.6 114.65,379.4 114.75,394.9 114.85,385.0 114.95,375.5 115.05,386.7 115.15,383.5 115.25,374.2 115.35,382.0 115.45,376.1 115.55,383.6 115.66,395.6 115.76,381.7 115.86,383.2 115.96,386.5 116.06,397.0 116.16,380.8 116.26,394.8 116.36,381.4 116.46,383.7 116.56,387.1 116.66,388.8 116.77,386.1 116.87,383.5 116.97,391.2 117.07,393.8 117.17,391.8 117.27,380.2 117.37,378.6 117.47,377.8 117.57,382.6 117.67,383.6 117.77,382.7 117.88,386.3 117.98,383.8 118.08,395.1 118.18,381.3 118.28,385.8 118.38,384.7 118.48,393.0 118.58,378.3 118.68,390.8 118.78,383.3 118.88,385.7 118.99,379.1 119.09,388.2 119.19,383.0 119.29,390.5 119.39,383.1 119.49,384.2 119.59,391.6 119.69,383.4 119.79,379.5 119.89,388.4 119.99,384.9 120.10,383.7 120.20,386.2 120.30,383.6 120.40,385.8 120.50,394.0 120.60,375.2 120.70,381.3 120.80,381.0 120.90,373.8 121.00,386.2 121.10,386.5 121.21,387.7 121.31,384.4 121.41,394.3 121.51,384.4 121.61,372.7 121.71,390.4 121.81,397.4 121.91,388.5 122.01,383.0 122.11,386.3 122.21,381.2 122.31,386.9 122.42,375.7 122.52,390.0 122.62,393.0 122.72,391.5 122.82,379.0 122.92,389.1 123.02,377.0 123.12,387.8 123.22,382.8 123.32,384.1 123.42,393.3 123.53,391.3 123.63,386.2 123.73,378.6 123.83,388.3 123.93,386.5 124.03,381.7 124.13,382.9 124.23,388.4 124.33,383.0 124.43,380.3 124.53,393.1 124.64,375.1 124.74,382.9 124.84,385.7 124.94,390.0 125.04,389.6 125.14,372.5 125.24,380.1 125.34,383.2 125.44,381.2 125.54,377.9 125.64,378.8 125.75,374.9 125.85,379.3 125.95,385.3 126.05,389.4 126.15,384.3 126.25,380.7 126.35,386.5 126.45,377.7 126.55,380.6 126.65,376.7 126.75,384.1 126.86,378.0 126.96,377.1 127.06,377.6 127.16,381.2 127.26,381.7 127.36,390.2 127.46,387.8 127.56,385.2 127.66,377.9 127.76,381.4 127.86,379.2 127.97,381.1 128.07,383.9 128.17,380.1 128.27,387.9 128.37,382.4 128.47,376.0 128.57,383.5 128.67,387.8 128.77,395.1 128.87,381.9 128.97,382.2 129.08,385.0 129.18,385.4 129.28,389.0 129.38,378.8 129.48,383.0 129.58,393.7 129.68,375.6 129.78,388.0 129.88,383.4 129.98,384.9 130.08,379.0 130.19,382.1 130.29,388.0 130.39,379.3 130.49,384.6 130.59,375.5 130.69,382.5 130.79,390.8 130.89,388.6 130.99,378.9 131.09,375.1 131.19,384.0 131.30,385.0 131.40,380.9 131.50,381.7 131.60,378.5 131.70,389.1 131.80,381.8 131.90,395.8 132.00,385.1 132.10,386.4 132.20,387.0 132.30,387.8 132.40,377.8 132.51,376.5 132.61,394.3 132.71,381.2 132.81,384.9 132.91,381.4 133.01,388.2 133.11,378.3 133.21,387.8 133.31,377.8 133.41,379.1 133.51,388.9 133.62,392.0 133.72,384.6 133.82,396.3 133.92,376.2 134.02,387.6 134.12,392.1 134.22,387.2 134.32,390.6 134.42,382.5 134.52,392.6 134.62,385.4 134.73,384.6 134.83,382.3 134.93,390.9 135.03,390.5 135.13,388.6 135.23,392.2 135.33,387.6 135.43,382.8 135.53,386.1 135.63,395.2 135.73,394.9 135.84,389.2 135.94,385.4 136.04,387.5 136.14,390.8 136.24,391.4 136.34,396.7 136.44,379.1 136.54,382.0 136.64,388.7 136.74,376.3 136.84,384.5 136.95,382.2 137.05,383.9 137.15,385.9 137.25,385.9 137.35,391.2 137.45,381.7 137.55,384.2 137.65,385.3 137.75,380.6 137.85,385.3 137.95,380.4 138.06,382.6 138.16,388.8 138.26,390.5 138.36,386.1 138.46,387.2 138.56,371.8 138.66,383.6 138.76,381.9 138.86,382.9 138.96,380.9 139.06,387.9 139.17,386.5 139.27,396.2 139.37,385.6 139.47,386.1 139.57,397.4 139.67,381.5 139.77,383.9 139.87,384.7 139.97,383.5 140.07,385.9 140.17,382.3 140.28,389.2 140.38,387.9 140.48,387.7 140.58,384.6 140.68,390.3 140.78,379.1 140.88,390.4 140.98,386.4 141.08,393.1 141.18,380.6 141.28,381.9 141.39,380.1 141.49,391.1 141.59,387.9 141.69,383.0 141.79,382.5 141.89,380.5 141.99,387.6 142.09,387.7 142.19,380.9 142.29,393.2 142.39,375.7 142.49,384.0 142.60,382.9 142.70,380.7 142.80,396.3 142.90,397.8 143.00,372.0 143.10,384.1 143.20,382.1 143.30,389.4 143.40,384.4 143.50,377.7 143.60,386.4 143.71,384.3 143.81,391.8 143.91,382.2 144.01,380.2 144.11,387.3 144.21,382.0 144.31,378.5 144.41,395.5 144.51,380.1 144.61,383.2 144.71,385.9 144.82,387.7 144.92,387.6 145.02,386.2 145.12,382.0 145.22,380.0 145.32,382.9 145.42,392.8 145.52,388.0 145.62,379.3 145.72,389.3 145.82,385.0 145.93,382.9 146.03,384.0 146.13,375.7 146.23,384.3 146.33,381.4 146.43,383.8 146.53,374.6 146.63,391.7 146.73,385.3 146.83,388.6 146.93,384.6 147.04,388.5 147.14,384.8 147.24,374.3 147.34,379.6 147.44,383.8 147.54,379.2 147.64,379.7 147.74,378.8 147.84,387.1 147.94,382.9 148.04,376.2 148.15,384.2 148.25,386.3 148.35,394.0 148.45,386.8 148.55,380.6 148.65,391.2 148.75,387.2 148.85,386.6 148.95,376.3 149.05,392.2 149.15,378.3 149.26,388.1 149.36,385.3 149.46,385.9 149.56,389.1 149.66,378.7 149.76,382.4 149.86,382.4 149.96,387.6 150.06,381.4 150.16,389.6 150.26,383.0 150.37,388.8 150.47,378.1 150.57,388.9 150.67,389.4 150.77,387.0 150.87,389.1 150.97,388.4 151.07,384.5 151.17,382.9 151.27,386.7 151.37,384.7 151.48,383.9 151.58,390.5 151.68,379.1 151.78,387.4 151.88,390.1 151.98,385.0 152.08,385.0 152.18,387.0 152.28,388.3 152.38,393.5 152.48,390.2 152.59,375.1 152.69,383.6 152.79,382.7 152.89,377.6 152.99,379.3 153.09,389.6 153.19,376.9 153.29,377.0 153.39,390.6 153.49,379.5 153.59,382.6 153.69,391.5 153.80,387.9 153.90,380.9 154.00,379.6 154.10,393.8 154.20,389.5 154.30,388.5 154.40,380.1 154.50,390.8 154.60,386.3 154.70,391.7 154.80,388.0 154.91,379.2 155.01,394.2 155.11,381.4 155.21,392.0 155.31,384.7 155.41,393.0 155.51,389.2 155.61,371.8 155.71,381.3 155.81,377.7 155.91,383.9 156.02,389.3 156.12,380.7 156.22,385.8 156.32,386.5 156.42,386.8 156.52,383.7 156.62,384.2 156.72,382.2 156.82,372.9 156.92,375.9 157.02,371.8 157.13,373.0 157.23,371.8 157.33,382.1 157.43,379.8 157.53,388.0 157.63,383.6 157.73,384.2 157.83,390.6 157.93,375.8 158.03,377.9 158.13,378.8 158.24,394.2 158.34,378.7 158.44,386.8 158.54,381.8 158.64,380.7 158.74,387.6 158.84,385.9 158.94,390.5 159.04,379.4 159.14,385.8 159.24,382.1 159.35,378.0 159.45,397.2 159.55,383.1 159.65,384.6 159.75,378.2 159.85,388.2 159.95,387.7 160.05,388.9 160.15,384.7 160.25,388.1 160.35,384.2 160.46,384.3 160.56,380.9 160.66,385.7 160.76,382.3 160.86,379.9 160.96,379.1 161.06,385.8 161.16,378.3 161.26,378.3 161.36,386.8 161.46,377.4 161.57,387.8 161.67,380.0 161.77,381.9 161.87,394.7 161.97,379.5 162.07,376.4 162.17,390.1 162.27,384.6 162.37,388.5 162.47,379.3 162.57,388.2 162.68,389.3 162.78,381.3 162.88,378.6 162.98,386.2 163.08,377.6 163.18,377.4 163.28,383.4 163.38,387.0 163.48,383.3 163.58,381.4 163.68,384.2 163.78,390.0 163.89,397.8 163.99,385.7 164.09,387.7 164.19,390.4 164.29,379.2 164.39,387.7 164.49,394.6 164.59,383.1 164.69,382.6 164.79,388.5 164.89,376.1 165.00,374.7 165.10,383.2 165.20,390.8 165.30,390.6 165.40,380.0 165.50,382.5 165.60,382.3 165.70,388.7 165.80,385.3 165.90,381.0 166.00,385.7 166.11,376.5 166.21,387.9 166.31,380.6 166.41,378.6 166.51,384.5 166.61,393.6 166.71,391.7 166.81,379.6 166.91,377.9 167.01,385.5 167.11,383.4 167.22,384.1 167.32,381.5 167.42,380.6 167.52,382.5 167.62,385.9 167.72,383.6 167.82,383.9 167.92,397.8 168.02,388.5 168.12,381.0 168.22,383.0 168.33,382.0 168.43,376.1 168.53,383.5 168.63,381.0 168.73,385.3 168.83,371.8 168.93,395.2 169.03,382.0 169.13,383.8 169.23,384.2 169.33,384.7 169.44,379.7 169.54,385.0 169.64,389.6 169.74,379.5 169.84,386.3 169.94,392.9 170.04,396.4 170.14,389.9 170.24,385.4 170.34,384.6 170.44,382.4 170.55,383.5 170.65,385.7 170.75,387.1 170.85,385.0 170.95,390.4 171.05,384.6 171.15,384.4 171.25,390.2 171.35,379.0 171.45,380.7 171.55,378.2 171.66,383.3 171.76,389.4 171.86,379.0 171.96,381.7 172.06,385.6 172.16,378.5 172.26,389.9 172.36,377.5 172.46,379.7 172.56,385.1 172.66,386.8 172.77,392.2 172.87,395.7 172.97,389.1 173.07,381.8 173.17,383.7 173.27,386.5 173.37,383.5 173.47,386.4 173.57,381.7 173.67,391.1 173.77,383.3 173.88,371.8 173.98,379.1 174.08,384.0 174.18,386.8 174.28,390.1 174.38,378.3 174.48,386.7 174.58,382.7 174.68,383.7 174.78,383.8 174.88,383.2 174.98,381.3 175.09,381.6 175.19,375.9 175.29,377.1 175.39,387.6 175.49,381.6 175.59,378.8 175.69,386.1 175.79,386.7 175.89,381.1 175.99,383.3 176.09,380.8 176.20,377.5 176.30,397.7 176.40,385.8 176.50,383.8 176.60,383.2 176.70,383.9 176.80,381.5 176.90,386.7 177.00,382.6 177.10,375.7 177.20,388.7 177.31,386.6 177.41,382.4 177.51,378.5 177.61,381.9 177.71,386.4 177.81,389.5 177.91,385.1 178.01,390.5 178.11,384.8 178.21,383.6 178.31,376.1 178.42,382.5 178.52,383.2 178.62,382.8 178.72,376.2 178.82,389.0 178.92,390.5 179.02,380.2 179.12,392.1 179.22,386.2 179.32,380.2 179.42,390.5 179.53,387.9 179.63,390.7 179.73,389.9 179.83,379.2 179.93,383.2 180.03,386.8 180.13,388.4 180.23,381.2 180.33,388.0 180.43,386.1 180.53,389.4 180.64,384.0 180.74,384.7 180.84,387.7 180.94,385.8 181.04,383.0 181.14,382.5 181.24,388.3 181.34,383.8 181.44,385.3 181.54,390.1 181.64,386.5 181.75,382.8 181.85,377.5 181.95,387.5 182.05,375.9 182.15,385.8 182.25,388.1 182.35,384.3 182.45,386.2 182.55,393.8 182.65,386.0 182.75,392.3 182.86,383.1 182.96,382.2 183.06,388.0 183.16,391.9 183.26,375.8 183.36,373.5 183.46,382.0 183.56,390.1 183.66,372.0 183.76,378.0 183.86,391.2 183.97,387.2 184.07,380.5 184.17,394.2 184.27,375.5 184.37,390.3 184.47,385.0 184.57,384.6 184.67,381.9 184.77,385.1 184.87,377.2 184.97,388.7 185.07,382.7 185.18,387.3 185.28,382.9 185.38,393.8 185.48,385.9 185.58,378.9 185.68,382.0 185.78,373.8 185.88,380.8 185.98,383.5 186.08,387.7 186.18,379.5 186.29,395.8 186.39,374.9 186.49,381.8 186.59,380.3 186.69,385.9 186.79,381.5 186.89,378.3 186.99,391.0 187.09,397.8 187.19,380.0 187.29,376.0 187.40,385.7 187.50,380.3 187.60,380.1 187.70,387.8 187.80,383.4 187.90,383.4 188.00,385.6 188.10,394.0 188.20,377.8 188.30,387.7 188.40,385.8 188.51,376.7 188.61,385.7 188.71,384.3 188.81,381.1 188.91,384.1 189.01,386.6 189.11,371.8 189.21,381.2 189.31,390.1 189.41,383.0 189.51,383.3 189.62,386.8 189.72,383.7 189.82,385.4 189.92,375.6 190.02,379.3 190.12,382.0 190.22,387.5 190.32,376.7 190.42,379.6 190.52,382.0 190.62,387.2 190.73,387.1 190.83,389.9 190.93,388.2 191.03,389.4 191.13,382.7 191.23,385.6 191.33,392.3 191.43,385.1 191.53,385.5 191.63,383.1 191.73,388.4 191.84,382.4 191.94,395.1 192.04,385.2 192.14,389.4 192.24,390.9 192.34,387.4 192.44,388.1 192.54,383.9 192.64,387.1 192.74,380.5 192.84,397.8 192.95,385.1 193.05,383.7 193.15,378.8 193.25,390.8 193.35,393.4 193.45,378.8 193.55,387.7 193.65,379.3 193.75,381.4 193.85,383.7 193.95,384.7 194.06,377.8 194.16,377.3 194.26,384.1 194.36,389.2 194.46,375.8 194.56,381.7 194.66,379.3 194.76,381.8 194.86,380.3 194.96,384.6 195.06,391.3 195.17,377.9 195.27,385.3 195.37,375.9 195.47,380.7 195.57,382.1 195.67,382.9 195.77,385.1 195.87,394.5 195.97,390.4 196.07,384.9 196.17,386.8 196.27,382.6 196.38,380.2 196.48,376.4 196.58,389.4 196.68,382.2 196.78,374.6 196.88,388.1 196.98,382.0 197.08,384.3 197.18,386.4 197.28,383.3 197.38,390.0 197.49,396.9 197.59,375.7 197.69,386.7 197.79,397.8 197.89,389.3 197.99,379.1 198.09,391.6 198.19,372.6 198.29,382.7 198.39,382.1 198.49,389.1 198.60,391.9 198.70,377.0 198.80,383.1 198.90,385.0 199.00,383.3 199.10,384.8 199.20,379.0 199.30,386.8 199.40,378.1 199.50,378.9 199.60,383.3 199.71,385.8 199.81,393.6 199.91,390.7 200.01,377.3 200.11,371.8 200.21,383.8 200.31,382.4 200.41,393.8 200.51,380.4 200.61,389.4 200.71,394.2 200.82,383.0 200.92,376.5 201.02,388.0 201.12,385.6 201.22,387.4 201.32,392.2 201.42,382.9 201.52,385.1 201.62,378.1 201.72,381.3 201.82,380.6 201.93,390.7 202.03,392.0 202.13,397.8 202.23,389.9 202.33,377.1 202.43,384.7 202.53,385.7 202.63,386.6 202.73,379.7 202.83,379.7 202.93,387.8 203.04,382.8 203.14,377.3 203.24,374.7 203.34,378.0 203.44,393.4 203.54,378.6 203.64,386.3 203.74,379.8 203.84,385.5 203.94,384.7 204.04,381.8 204.15,384.6 204.25,379.4 204.35,390.7 204.45,387.5 204.55,387.3 204.65,384.2 204.75,376.1 204.85,380.0 204.95,380.8 205.05,385.8 205.15,383.3 205.26,381.9 205.36,376.8 205.46,381.0 205.56,387.6 205.66,381.2 205.76,385.9 205.86,386.4 205.96,383.4 206.06,387.2 206.16,391.0 206.26,381.6 206.36,387.2 206.47,386.9 206.57,380.8 206.67,387.7 206.77,378.1 206.87,379.2 206.97,384.7 207.07,382.3 207.17,390.3 207.27,384.7 207.37,387.6 207.47,383.4 207.58,381.6 207.68,380.6 207.78,384.0 207.88,388.8 207.98,390.5 208.08,388.5 208.18,387.9 208.28,389.5 208.38,397.8 208.48,378.9 208.58,396.0 208.69,389.0 208.79,383.7 208.89,388.6 208.99,385.6 209.09,385.5 209.19,379.3 209.29,387.0 209.39,388.0 209.49,378.8 209.59,392.7 209.69,388.4 209.80,387.1 209.90,395.6 210.00,387.9 210.10,395.7 210.20,387.8 210.30,393.1 210.40,382.1 210.50,379.9 210.60,388.8 210.70,385.3 210.80,391.9 210.91,383.0 211.01,392.3 211.11,383.4 211.21,383.2 211.31,385.5 211.41,381.3 211.51,395.3 211.61,381.3 211.71,393.9 211.81,384.4 211.91,376.0 212.02,382.4 212.12,384.5 212.22,382.1 212.32,387.8 212.42,387.8 212.52,387.2 212.62,384.5 212.72,389.9 212.82,387.7 212.92,392.3 213.02,380.1 213.13,376.9 213.23,381.5 213.33,386.2 213.43,382.9 213.53,391.1 213.63,384.8 213.73,381.9 213.83,383.4 213.93,371.8 214.03,391.1 214.13,379.8 214.24,385.6 214.34,391.6 214.44,384.1 214.54,381.9 214.64,387.8 214.74,382.9 214.84,385.2 214.94,381.9 215.04,383.4 215.14,385.8 215.24,380.5 215.35,387.6 215.45,380.7 215.55,378.8 215.65,380.9 215.75,390.2 215.85,388.5 215.95,380.4 216.05,380.1 216.15,381.7 216.25,382.4 216.35,387.8 216.46,388.7 216.56,373.2 216.66,375.0 216.76,385.2 216.86,385.2 216.96,390.7 217.06,377.7 217.16,384.6 217.26,390.2 217.36,384.8 217.46,381.0 217.56,390.4 217.67,387.0 217.77,378.3 217.87,391.7 217.97,382.3 218.07,385.9 218.17,388.6 218.27,384.3 218.37,385.7 218.47,385.0 218.57,384.5 218.67,385.0 218.78,389.9 218.88,392.0 218.98,397.8 219.08,375.3 219.18,373.3 219.28,377.8 219.38,385.0 219.48,379.5 219.58,378.2 219.68,385.6 219.78,397.3 219.89,390.6 219.99,389.2 220.09,388.1 220.19,393.7 220.29,383.3 220.39,383.7 220.49,377.6 220.59,386.4 220.69,386.8 220.79,384.8 220.89,381.8 221.00,387.9 221.10,381.1 221.20,380.4 221.30,387.5 221.40,388.4 221.50,389.4 221.60,382.2 221.70,386.6 221.80,386.9 221.90,389.9 222.00,378.3 222.11,390.8 222.21,383.5 222.31,380.5 222.41,382.7 222.51,381.6 222.61,382.8 222.71,384.8 222.81,381.8 222.91,382.8 223.01,389.8 223.11,381.9 223.22,391.3 223.32,384.6 223.42,392.3 223.52,379.4 223.62,388.6 223.72,378.5 223.82,385.5 223.92,385.0 224.02,389.3 224.12,396.4 224.22,390.7 224.33,391.8 224.43,391.3 224.53,379.6 224.63,383.6 224.73,383.7 224.83,384.9 224.93,394.0 225.03,375.2 225.13,387.0 225.23,383.7 225.33,387.4 225.44,394.0 225.54,388.9 225.64,387.6 225.74,381.0 225.84,382.8 225.94,382.5 226.04,387.8 226.14,381.4 226.24,384.1 226.34,386.4 226.44,390.5 226.55,379.8 226.65,380.8 226.75,386.7 226.85,384.3 226.95,390.6 227.05,392.3 227.15,386.5 227.25,384.8 227.35,381.9 227.45,387.7 227.55,395.7 227.65,387.3 227.76,380.2 227.86,391.7 227.96,381.5 228.06,393.7 228.16,380.0 228.26,379.3 228.36,382.0 228.46,390.1 228.56,379.0 228.66,386.1 228.76,386.1 228.87,384.1 228.97,383.2 229.07,384.2 229.17,387.4 229.27,383.7 229.37,380.1 229.47,382.5 229.57,388.3 229.67,385.7 229.77,387.1 229.87,376.7 229.98,384.8 230.08,394.6 230.18,382.3 230.28,385.6 230.38,386.5 230.48,391.4 230.58,386.9 230.68,379.2 230.78,380.8 230.88,384.6 230.98,382.1 231.09,379.0 231.19,381.1 231.29,382.5 231.39,378.5 231.49,383.1 231.59,392.8 231.69,394.8 231.79,386.9 231.89,376.6 231.99,381.3 232.09,377.9 232.20,389.6 232.30,382.1 232.40,383.2 232.50,391.4 232.60,374.7 232.70,382.2" fill="none" stroke="#ff0000" stroke-width="1.1" stroke-linejoin="miter"/>
<rect x="30.2" y="237.8" width="203.3" height="169.2" fill="none" stroke="#222" stroke-width="1.5"/>
<line x1="44.5" y1="407" x2="44.5" y2="409.6" stroke="#222" stroke-width="0.9"/>
<line x1="64.5" y1="407" x2="64.5" y2="408.5" stroke="#222" stroke-width="0.9"/>
<line x1="84.5" y1="407" x2="84.5" y2="409.6" stroke="#222" stroke-width="0.9"/>
<line x1="104.5" y1="407" x2="104.5" y2="408.5" stroke="#222" stroke-width="0.9"/>
<line x1="124.5" y1="407" x2="124.5" y2="409.6" stroke="#222" stroke-width="0.9"/>
<line x1="144.5" y1="407" x2="144.5" y2="408.5" stroke="#222" stroke-width="0.9"/>
<line x1="164.5" y1="407" x2="164.5" y2="409.6" stroke="#222" stroke-width="0.9"/>
<line x1="184.5" y1="407" x2="184.5" y2="408.5" stroke="#222" stroke-width="0.9"/>
<line x1="204.5" y1="407" x2="204.5" y2="409.6" stroke="#222" stroke-width="0.9"/>
<line x1="224.5" y1="407" x2="224.5" y2="408.5" stroke="#222" stroke-width="0.9"/>
<line x1="30.2" y1="261.9" x2="27.8" y2="261.9" stroke="#222" stroke-width="0.9"/>
<line x1="30.2" y1="286.0" x2="27.8" y2="286.0" stroke="#222" stroke-width="0.9"/>
<line x1="30.2" y1="310.1" x2="27.8" y2="310.1" stroke="#222" stroke-width="0.9"/>
<line x1="30.2" y1="334.2" x2="27.8" y2="334.2" stroke="#222" stroke-width="0.9"/>
<line x1="30.2" y1="358.3" x2="27.8" y2="358.3" stroke="#222" stroke-width="0.9"/>
<line x1="30.2" y1="382.4" x2="27.8" y2="382.4" stroke="#222" stroke-width="0.9"/>
<text x="45.2" y="422" font-family="'Liberation Serif','Times New Roman',serif" font-size="12.3" font-weight="bold" fill="#000" stroke="#000" stroke-width="0.3" text-anchor="middle" >1.456</text>
<text x="85.2" y="422" font-family="'Liberation Serif','Times New Roman',serif" font-size="12.3" font-weight="bold" fill="#000" stroke="#000" stroke-width="0.3" text-anchor="middle" >1.463</text>
<text x="125.2" y="422" font-family="'Liberation Serif','Times New Roman',serif" font-size="12.3" font-weight="bold" fill="#000" stroke="#000" stroke-width="0.3" text-anchor="middle" >1.470</text>
<text x="165.2" y="422" font-family="'Liberation Serif','Times New Roman',serif" font-size="12.3" font-weight="bold" fill="#000" stroke="#000" stroke-width="0.3" text-anchor="middle" >1.477</text>
<text x="205.2" y="422" font-family="'Liberation Serif','Times New Roman',serif" font-size="12.3" font-weight="bold" fill="#000" stroke="#000" stroke-width="0.3" text-anchor="middle" >1.484</text>
<text x="129.5" y="438" font-family="'Liberation Serif','Times New Roman',serif" font-size="14" font-weight="bold" fill="#000" stroke="#000" stroke-width="0.3" text-anchor="middle" >Energy (eV)</text>
<text font-family="'Liberation Serif','Times New Roman',serif" font-size="14.4" font-weight="bold" fill="#000" text-anchor="middle" transform="translate(24,321) rotate(-90)">PL Intensity (arb.units)</text>
<text x="-0.1" y="240.5" font-family="'Liberation Serif','Times New Roman',serif" font-size="20.2" font-weight="bold" fill="#000" stroke="#000" stroke-width="0.3" text-anchor="start" >(d)</text>
<line x1="33.9" y1="248.9" x2="68.9" y2="248.9" stroke="#ff0000" stroke-width="1.3"/>
<line x1="33.9" y1="271.6" x2="68.9" y2="271.6" stroke="#000" stroke-width="1.3"/>
<text x="77" y="253.6" font-family="'Liberation Sans',Arial,sans-serif" font-size="14.6" font-weight="bold" fill="#000">e<tspan font-size="9.5" dy="3">i</tspan><tspan dy="-3"> // e</tspan><tspan font-size="9.5" dy="3">s</tspan></text>
<text x="77" y="276.4" font-family="'Liberation Sans',Arial,sans-serif" font-size="14.6" font-weight="bold" fill="#000">e<tspan font-size="9.5" dy="3">i</tspan><tspan dy="-3" font-weight="normal" font-size="13.5" dx="2.2">⊥</tspan><tspan font-size="14.6" dx="2.6">e</tspan><tspan font-size="9.5" dy="3">s</tspan></text>
<text x="187.4" y="254.6" font-family="'Liberation Serif','Times New Roman',serif" font-size="13.8" font-weight="bold" fill="#000" stroke="#000" stroke-width="0.3" text-anchor="start" >x=0.03</text>
<text x="185" y="273.4" font-family="'Liberation Serif','Times New Roman',serif" font-size="13.8" font-weight="bold" fill="#000" stroke="#000" stroke-width="0.3" text-anchor="start" >T=3.5K</text>
<text x="146.6" y="291" font-family="'Liberation Serif','Times New Roman',serif" font-size="14" font-weight="bold" fill="#000" stroke="#000" stroke-width="0.3" text-anchor="start" >X</text>
<text x="156.91" y="295.83" font-family="'Liberation Serif','Times New Roman',serif" font-size="9.31" font-weight="bold" fill="#000" stroke="#000" stroke-width="0.25" text-anchor="start" >ZR</text>
<text x="170.64" y="298.28" font-family="'Liberation Serif','Times New Roman',serif" font-size="7.0" font-weight="bold" fill="#000" stroke="#000" stroke-width="0.2" text-anchor="start" >2</text>
<text x="124.6" y="311.5" font-family="'Liberation Serif','Times New Roman',serif" font-size="14" font-weight="bold" fill="#000" stroke="#000" stroke-width="0.3" text-anchor="start" >X</text>
<text x="134.91" y="316.33" font-family="'Liberation Serif','Times New Roman',serif" font-size="9.31" font-weight="bold" fill="#000" stroke="#000" stroke-width="0.25" text-anchor="start" >ZR</text>
<text x="148.64" y="318.78" font-family="'Liberation Serif','Times New Roman',serif" font-size="7.0" font-weight="bold" fill="#000" stroke="#000" stroke-width="0.2" text-anchor="start" >1</text>
</g>
<g id="panel-e">
<circle cx="363.5" cy="325" r="35.5" fill="none" stroke="#9a9a9a" stroke-width="0.6"/>
<line x1="399.00" y1="325.00" x2="432.00" y2="325.00" stroke="#585858" stroke-width="1"/>
<line x1="388.60" y1="299.90" x2="411.94" y2="276.56" stroke="#777" stroke-width="1.4"/>
<line x1="363.50" y1="289.50" x2="363.50" y2="256.50" stroke="#585858" stroke-width="1"/>
<line x1="338.40" y1="299.90" x2="315.06" y2="276.56" stroke="#777" stroke-width="1.4"/>
<line x1="328.00" y1="325.00" x2="295.00" y2="325.00" stroke="#585858" stroke-width="1"/>
<line x1="338.40" y1="350.10" x2="315.06" y2="373.44" stroke="#777" stroke-width="1.4"/>
<line x1="363.50" y1="360.50" x2="363.50" y2="393.50" stroke="#585858" stroke-width="1"/>
<line x1="388.60" y1="350.10" x2="411.94" y2="373.44" stroke="#777" stroke-width="1.4"/>
<circle cx="363.5" cy="325" r="68.5" fill="none" stroke="#000" stroke-width="1.6"/>
<text x="363.5" y="250.8" font-family="'Liberation Serif','Times New Roman',serif" font-size="14.1" font-weight="bold" fill="#000" stroke="#000" stroke-width="0.3" text-anchor="middle" >90</text>
<text x="363.5" y="409.5" font-family="'Liberation Serif','Times New Roman',serif" font-size="14.1" font-weight="bold" fill="#000" stroke="#000" stroke-width="0.3" text-anchor="middle" >270</text>
<text x="434.8" y="330.2" font-family="'Liberation Serif','Times New Roman',serif" font-size="14.1" font-weight="bold" fill="#000" stroke="#000" stroke-width="0.3" text-anchor="start" >0</text>
<text x="291.9" y="330.4" font-family="'Liberation Serif','Times New Roman',serif" font-size="14.1" font-weight="bold" fill="#000" stroke="#000" stroke-width="0.3" text-anchor="end" >180</text>
<text x="414.1" y="272.2" font-family="'Liberation Serif','Times New Roman',serif" font-size="14.1" font-weight="bold" fill="#000" stroke="#000" stroke-width="0.3" text-anchor="start" >45</text>
<text x="312.6" y="272.2" font-family="'Liberation Serif','Times New Roman',serif" font-size="14.1" font-weight="bold" fill="#000" stroke="#000" stroke-width="0.3" text-anchor="end" >135</text>
<text x="414.1" y="389.1" font-family="'Liberation Serif','Times New Roman',serif" font-size="14.1" font-weight="bold" fill="#000" stroke="#000" stroke-width="0.3" text-anchor="start" >315</text>
<text x="312.6" y="389.1" font-family="'Liberation Serif','Times New Roman',serif" font-size="14.1" font-weight="bold" fill="#000" stroke="#000" stroke-width="0.3" text-anchor="end" >225</text>
<polyline points="364.04,325.00 364.15,324.99 364.28,324.99 364.40,324.98 364.54,324.96 364.68,324.95 364.83,324.93 364.99,324.91 365.15,324.88 365.32,324.86 365.50,324.82 365.69,324.79 365.88,324.75 366.08,324.71 366.28,324.66 366.49,324.61 366.71,324.55 366.94,324.49 367.17,324.42 367.40,324.35 367.64,324.27 367.89,324.19 368.14,324.10 368.40,324.00 368.66,323.90 368.93,323.80 369.20,323.68 369.48,323.56 369.76,323.44 370.05,323.31 370.34,323.17 370.63,323.02 370.93,322.87 371.23,322.71 371.53,322.54 371.84,322.37 372.15,322.19 372.46,322.00 372.78,321.80 373.10,321.60 373.42,321.39 373.74,321.17 374.06,320.95 374.38,320.71 374.71,320.47 375.04,320.22 375.36,319.96 375.69,319.70 376.02,319.43 376.35,319.15 376.67,318.86 377.00,318.56 377.33,318.26 377.65,317.94 377.98,317.62 378.30,317.30 378.62,316.96 378.94,316.62 379.26,316.27 379.57,315.91 379.88,315.54 380.19,315.17 380.50,314.79 380.80,314.40 381.10,314.00 381.40,313.60 381.69,313.19 381.98,312.77 382.26,312.35 382.54,311.91 382.81,311.48 383.08,311.03 383.35,310.58 383.60,310.12 383.86,309.66 384.10,309.19 384.35,308.71 384.58,308.23 384.81,307.75 385.03,307.25 385.24,306.75 385.45,306.25 385.65,305.74 385.85,305.23 386.03,304.71 386.21,304.19 386.38,303.66 386.54,303.13 386.70,302.60 386.84,302.06 386.98,301.52 387.11,300.98 387.23,300.43 387.34,299.88 387.44,299.32 387.54,298.77 387.62,298.21 387.70,297.65 387.76,297.09 387.82,296.53 387.86,295.97 387.90,295.40 387.93,294.84 387.94,294.27 387.95,293.70 387.95,293.14 387.94,292.57 387.91,292.01 387.88,291.44 387.84,290.88 387.79,290.32 387.72,289.76 387.65,289.20 387.57,288.64 387.47,288.09 387.37,287.54 387.25,286.99 387.13,286.44 386.99,285.90 386.85,285.36 386.70,284.82 386.53,284.29 386.36,283.77 386.17,283.24 385.98,282.73 385.77,282.21 385.56,281.71 385.33,281.21 385.10,280.71 384.86,280.22 384.61,279.74 384.34,279.26 384.07,278.79 383.79,278.33 383.50,277.87 383.21,277.42 382.90,276.98 382.58,276.55 382.26,276.13 381.93,275.71 381.59,275.30 381.24,274.90 380.88,274.51 380.52,274.13 380.15,273.76 379.77,273.40 379.38,273.05 378.99,272.70 378.59,272.37 378.18,272.05 377.77,271.74 377.35,271.44 376.93,271.14 376.50,270.86 376.06,270.59 375.62,270.34 375.17,270.09 374.72,269.85 374.26,269.63 373.80,269.42 373.34,269.22 372.87,269.03 372.39,268.85 371.92,268.69 371.44,268.53 370.95,268.39 370.47,268.26 369.98,268.15 369.49,268.04 368.99,267.95 368.50,267.87 368.00,267.80 367.50,267.75 367.00,267.71 366.50,267.68 366.00,267.66 365.50,267.66 365.00,267.67 364.50,267.69 364.00,267.72 363.50,267.77 363.00,267.83 362.50,267.90 362.01,267.98 361.51,268.08 361.02,268.19 360.53,268.31 360.04,268.44 359.56,268.59 359.07,268.74 358.59,268.91 358.12,269.09 357.64,269.29 357.18,269.49 356.71,269.71 356.25,269.94 355.79,270.18 355.34,270.43 354.90,270.69 354.46,270.96 354.02,271.25 353.59,271.54 353.17,271.84 352.75,272.16 352.34,272.49 351.93,272.82 351.53,273.17 351.14,273.52 350.76,273.89 350.38,274.26 350.01,274.65 349.65,275.04 349.29,275.44 348.94,275.85 348.60,276.27 348.27,276.70 347.95,277.13 347.63,277.58 347.33,278.03 347.03,278.49 346.74,278.95 346.46,279.42 346.19,279.90 345.93,280.39 345.67,280.88 345.43,281.38 345.20,281.88 344.97,282.39 344.76,282.90 344.55,283.42 344.35,283.94 344.17,284.47 343.99,285.00 343.82,285.54 343.67,286.08 343.52,286.62 343.38,287.17 343.26,287.72 343.14,288.27 343.03,288.82 342.93,289.38 342.85,289.94 342.77,290.50 342.70,291.06 342.64,291.62 342.60,292.19 342.56,292.75 342.53,293.32 342.51,293.88 342.50,294.45 342.50,295.01 342.51,295.58 342.53,296.14 342.56,296.70 342.60,297.26 342.65,297.82 342.70,298.38 342.77,298.94 342.84,299.49 342.93,300.04 343.02,300.59 343.12,301.14 343.23,301.68 343.35,302.22 343.47,302.76 343.60,303.29 343.75,303.82 343.89,304.34 344.05,304.86 344.21,305.37 344.39,305.89 344.56,306.39 344.75,306.89 344.94,307.39 345.14,307.88 345.34,308.36 345.55,308.84 345.77,309.31 345.99,309.78 346.22,310.24 346.45,310.70 346.69,311.15 346.94,311.59 347.18,312.02 347.44,312.45 347.69,312.87 347.96,313.29 348.22,313.69 348.49,314.09 348.76,314.49 349.04,314.87 349.32,315.25 349.60,315.62 349.88,315.99 350.17,316.34 350.45,316.69 350.74,317.03 351.04,317.36 351.33,317.69 351.62,318.00 351.92,318.31 352.21,318.61 352.51,318.91 352.81,319.19 353.10,319.47 353.40,319.74 353.69,320.00 353.99,320.26 354.28,320.50 354.58,320.74 354.87,320.97 355.16,321.20 355.45,321.41 355.73,321.62 356.02,321.82 356.30,322.02 356.58,322.20 356.85,322.38 357.13,322.55 357.40,322.72 357.66,322.88 357.93,323.03 358.19,323.17 358.44,323.31 358.69,323.44 358.94,323.56 359.18,323.68 359.42,323.79 359.65,323.90 359.88,324.00 360.10,324.09 360.32,324.18 360.53,324.26 360.73,324.34 360.93,324.41 361.13,324.47 361.31,324.54 361.49,324.59 361.67,324.64 361.84,324.69 362.00,324.74 362.15,324.77 362.30,324.81 362.44,324.84 362.58,324.87 362.71,324.90 362.83,324.92 362.94,324.94 363.05,324.95 363.14,324.97 363.23,324.98 363.32,324.99 363.39,324.99 363.46,325.00 363.48,325.00 363.41,325.00 363.33,324.99 363.25,324.99 363.16,324.99 363.06,325.00 362.96,325.00 362.85,325.01 362.72,325.01 362.60,325.02 362.46,325.04 362.32,325.05 362.17,325.07 362.01,325.09 361.85,325.12 361.68,325.14 361.50,325.18 361.31,325.21 361.12,325.25 360.92,325.29 360.72,325.34 360.51,325.39 360.29,325.45 360.06,325.51 359.83,325.58 359.60,325.65 359.36,325.73 359.11,325.81 358.86,325.90 358.60,326.00 358.34,326.10 358.07,326.20 357.80,326.32 357.52,326.44 357.24,326.56 356.95,326.69 356.66,326.83 356.37,326.98 356.07,327.13 355.77,327.29 355.47,327.46 355.16,327.63 354.85,327.81 354.54,328.00 354.22,328.20 353.90,328.40 353.58,328.61 353.26,328.83 352.94,329.05 352.62,329.29 352.29,329.53 351.96,329.78 351.64,330.04 351.31,330.30 350.98,330.57 350.65,330.85 350.33,331.14 350.00,331.44 349.67,331.74 349.35,332.06 349.02,332.38 348.70,332.70 348.38,333.04 348.06,333.38 347.74,333.73 347.43,334.09 347.12,334.46 346.81,334.83 346.50,335.21 346.20,335.60 345.90,336.00 345.60,336.40 345.31,336.81 345.02,337.23 344.74,337.65 344.46,338.09 344.19,338.52 343.92,338.97 343.65,339.42 343.40,339.88 343.14,340.34 342.90,340.81 342.65,341.29 342.42,341.77 342.19,342.25 341.97,342.75 341.76,343.25 341.55,343.75 341.35,344.26 341.15,344.77 340.97,345.29 340.79,345.81 340.62,346.34 340.46,346.87 340.30,347.40 340.16,347.94 340.02,348.48 339.89,349.02 339.77,349.57 339.66,350.12 339.56,350.68 339.46,351.23 339.38,351.79 339.30,352.35 339.24,352.91 339.18,353.47 339.14,354.03 339.10,354.60 339.07,355.16 339.06,355.73 339.05,356.30 339.05,356.86 339.06,357.43 339.09,357.99 339.12,358.56 339.16,359.12 339.21,359.68 339.28,360.24 339.35,360.80 339.43,361.36 339.53,361.91 339.63,362.46 339.75,363.01 339.87,363.56 340.01,364.10 340.15,364.64 340.30,365.18 340.47,365.71 340.64,366.23 340.83,366.76 341.02,367.27 341.23,367.79 341.44,368.29 341.67,368.79 341.90,369.29 342.14,369.78 342.39,370.26 342.66,370.74 342.93,371.21 343.21,371.67 343.50,372.13 343.79,372.58 344.10,373.02 344.42,373.45 344.74,373.87 345.07,374.29 345.41,374.70 345.76,375.10 346.12,375.49 346.48,375.87 346.85,376.24 347.23,376.60 347.62,376.95 348.01,377.30 348.41,377.63 348.82,377.95 349.23,378.26 349.65,378.56 350.07,378.86 350.50,379.14 350.94,379.41 351.38,379.66 351.83,379.91 352.28,380.15 352.74,380.37 353.20,380.58 353.66,380.78 354.13,380.97 354.61,381.15 355.08,381.31 355.56,381.47 356.05,381.61 356.53,381.74 357.02,381.85 357.51,381.96 358.01,382.05 358.50,382.13 359.00,382.20 359.50,382.25 360.00,382.29 360.50,382.32 361.00,382.34 361.50,382.34 362.00,382.33 362.50,382.31 363.00,382.28 363.50,382.23 364.00,382.17 364.50,382.10 364.99,382.02 365.49,381.92 365.98,381.81 366.47,381.69 366.96,381.56 367.44,381.41 367.93,381.26 368.41,381.09 368.88,380.91 369.36,380.71 369.82,380.51 370.29,380.29 370.75,380.06 371.21,379.82 371.66,379.57 372.10,379.31 372.54,379.04 372.98,378.75 373.41,378.46 373.83,378.16 374.25,377.84 374.66,377.51 375.07,377.18 375.47,376.83 375.86,376.48 376.24,376.11 376.62,375.74 376.99,375.35 377.35,374.96 377.71,374.56 378.06,374.15 378.40,373.73 378.73,373.30 379.05,372.87 379.37,372.42 379.67,371.97 379.97,371.51 380.26,371.05 380.54,370.58 380.81,370.10 381.07,369.61 381.33,369.12 381.57,368.62 381.80,368.12 382.03,367.61 382.24,367.10 382.45,366.58 382.65,366.06 382.83,365.53 383.01,365.00 383.18,364.46 383.33,363.92 383.48,363.38 383.62,362.83 383.74,362.28 383.86,361.73 383.97,361.18 384.07,360.62 384.15,360.06 384.23,359.50 384.30,358.94 384.36,358.38 384.40,357.81 384.44,357.25 384.47,356.68 384.49,356.12 384.50,355.55 384.50,354.99 384.49,354.42 384.47,353.86 384.44,353.30 384.40,352.74 384.35,352.18 384.30,351.62 384.23,351.06 384.16,350.51 384.07,349.96 383.98,349.41 383.88,348.86 383.77,348.32 383.65,347.78 383.53,347.24 383.40,346.71 383.25,346.18 383.11,345.66 382.95,345.14 382.79,344.63 382.61,344.11 382.44,343.61 382.25,343.11 382.06,342.61 381.86,342.12 381.66,341.64 381.45,341.16 381.23,340.69 381.01,340.22 380.78,339.76 380.55,339.30 380.31,338.85 380.06,338.41 379.82,337.98 379.56,337.55 379.31,337.13 379.04,336.71 378.78,336.31 378.51,335.91 378.24,335.51 377.96,335.13 377.68,334.75 377.40,334.38 377.12,334.01 376.83,333.66 376.55,333.31 376.26,332.97 375.96,332.64 375.67,332.31 375.38,332.00 375.08,331.69 374.79,331.39 374.49,331.09 374.19,330.81 373.90,330.53 373.60,330.26 373.31,330.00 373.01,329.74 372.72,329.50 372.42,329.26 372.13,329.03 371.84,328.80 371.55,328.59 371.27,328.38 370.98,328.18 370.70,327.98 370.42,327.80 370.15,327.62 369.87,327.45 369.60,327.28 369.34,327.12 369.07,326.97 368.81,326.83 368.56,326.69 368.31,326.56 368.06,326.44 367.82,326.32 367.58,326.21 367.35,326.10 367.12,326.00 366.90,325.91 366.68,325.82 366.47,325.74 366.27,325.66 366.07,325.59 365.87,325.53 365.69,325.46 365.51,325.41 365.33,325.36 365.16,325.31 365.00,325.26 364.85,325.23 364.70,325.19 364.56,325.16 364.42,325.13 364.29,325.10 364.17,325.08 364.06,325.06 363.95,325.05 363.86,325.03 363.77,325.02 363.68,325.01 363.61,325.01 363.54,325.00 363.52,325.00 363.59,325.00 363.67,325.01 363.75,325.01 363.84,325.01 363.94,325.00 364.04,325.00" fill="none" stroke="#0000ff" stroke-width="2.1" stroke-linejoin="round"/>
<path d="M306.5,322.7 L386.5,322.7 L386.5,315.8 L423.5,325.3 L386.5,334.6 L386.5,327.9 L306.5,327.9 Z" fill="#ff0000"/>
<circle cx="353.6" cy="268" r="4.8" fill="url(#gb)"/>
<circle cx="374.4" cy="263.6" r="4.8" fill="url(#gb)"/>
<circle cx="387.6" cy="283.4" r="4.8" fill="url(#gb)"/>
<circle cx="344" cy="291.4" r="4.8" fill="url(#gb)"/>
<circle cx="397.2" cy="297" r="4.8" fill="url(#gb)"/>
<circle cx="349.8" cy="313" r="4.8" fill="url(#gb)"/>
<circle cx="363.6" cy="325" r="4.8" fill="url(#gb)"/>
<circle cx="342" cy="343" r="4.8" fill="url(#gb)"/>
<circle cx="386" cy="344" r="4.8" fill="url(#gb)"/>
<circle cx="380.4" cy="354.4" r="4.8" fill="url(#gb)"/>
<circle cx="343" cy="360.4" r="4.8" fill="url(#gb)"/>
<circle cx="354" cy="377" r="4.8" fill="url(#gb)"/>
<circle cx="372" cy="373" r="4.8" fill="url(#gb)"/>
<text x="279.5" y="241.3" font-family="'Liberation Serif','Times New Roman',serif" font-size="20.9" font-weight="bold" fill="#000" stroke="#000" stroke-width="0.3" text-anchor="start" >(e)</text>
<text x="335" y="233.4" font-family="'Liberation Serif','Times New Roman',serif" font-size="18.2" font-weight="bold" fill="#0000ff" stroke="#0000ff" stroke-width="0.3" text-anchor="start" >b-axis</text>
<text x="436.7" y="342" font-family="'Liberation Serif','Times New Roman',serif" font-size="18.5" font-weight="bold" fill="#0000ff" stroke="#0000ff" stroke-width="0.3" text-anchor="start" >a-axis</text>
<text x="389.1" y="241.5" font-family="'Liberation Serif','Times New Roman',serif" font-size="17.3" font-weight="bold" fill="#0000ff" stroke="#0000ff" stroke-width="0.3" text-anchor="start" >X</text>
<text x="401.79" y="247.47" font-family="'Liberation Serif','Times New Roman',serif" font-size="11.5" font-weight="bold" fill="#0000ff" stroke="#0000ff" stroke-width="0.25" text-anchor="start" >ZR</text>
<text x="418.57" y="250.5" font-family="'Liberation Serif','Times New Roman',serif" font-size="8.65" font-weight="bold" fill="#0000ff" stroke="#0000ff" stroke-width="0.2" text-anchor="start" >1</text>
</g>
<g id="panel-f">
<circle cx="598.5" cy="325" r="35.5" fill="none" stroke="#9a9a9a" stroke-width="0.6"/>
<line x1="634.00" y1="325.00" x2="667.00" y2="325.00" stroke="#585858" stroke-width="1"/>
<line x1="623.60" y1="299.90" x2="646.94" y2="276.56" stroke="#777" stroke-width="1.4"/>
<line x1="598.50" y1="289.50" x2="598.50" y2="256.50" stroke="#585858" stroke-width="1"/>
<line x1="573.40" y1="299.90" x2="550.06" y2="276.56" stroke="#777" stroke-width="1.4"/>
<line x1="563.00" y1="325.00" x2="530.00" y2="325.00" stroke="#585858" stroke-width="1"/>
<line x1="573.40" y1="350.10" x2="550.06" y2="373.44" stroke="#777" stroke-width="1.4"/>
<line x1="598.50" y1="360.50" x2="598.50" y2="393.50" stroke="#585858" stroke-width="1"/>
<line x1="623.60" y1="350.10" x2="646.94" y2="373.44" stroke="#777" stroke-width="1.4"/>
<circle cx="598.5" cy="325" r="68.5" fill="none" stroke="#000" stroke-width="1.6"/>
<text x="598.5" y="250.8" font-family="'Liberation Serif','Times New Roman',serif" font-size="14.1" font-weight="bold" fill="#000" stroke="#000" stroke-width="0.3" text-anchor="middle" >90</text>
<text x="598.5" y="409.5" font-family="'Liberation Serif','Times New Roman',serif" font-size="14.1" font-weight="bold" fill="#000" stroke="#000" stroke-width="0.3" text-anchor="middle" >270</text>
<text x="669.8" y="330.2" font-family="'Liberation Serif','Times New Roman',serif" font-size="14.1" font-weight="bold" fill="#000" stroke="#000" stroke-width="0.3" text-anchor="start" >0</text>
<text x="526.9" y="330.4" font-family="'Liberation Serif','Times New Roman',serif" font-size="14.1" font-weight="bold" fill="#000" stroke="#000" stroke-width="0.3" text-anchor="end" >180</text>
<text x="649.1" y="272.2" font-family="'Liberation Serif','Times New Roman',serif" font-size="14.1" font-weight="bold" fill="#000" stroke="#000" stroke-width="0.3" text-anchor="start" >45</text>
<text x="547.6" y="272.2" font-family="'Liberation Serif','Times New Roman',serif" font-size="14.1" font-weight="bold" fill="#000" stroke="#000" stroke-width="0.3" text-anchor="end" >135</text>
<text x="649.1" y="389.1" font-family="'Liberation Serif','Times New Roman',serif" font-size="14.1" font-weight="bold" fill="#000" stroke="#000" stroke-width="0.3" text-anchor="start" >315</text>
<text x="547.6" y="389.1" font-family="'Liberation Serif','Times New Roman',serif" font-size="14.1" font-weight="bold" fill="#000" stroke="#000" stroke-width="0.3" text-anchor="end" >225</text>
<polyline points="598.64,325.00 598.72,325.00 598.80,324.99 598.90,324.99 599.00,324.98 599.11,324.97 599.23,324.96 599.36,324.95 599.49,324.93 599.63,324.91 599.78,324.89 599.93,324.86 600.09,324.83 600.26,324.80 600.44,324.76 600.62,324.72 600.81,324.68 601.00,324.63 601.20,324.57 601.41,324.51 601.63,324.45 601.85,324.38 602.07,324.31 602.31,324.23 602.54,324.14 602.79,324.05 603.04,323.95 603.29,323.85 603.55,323.74 603.81,323.63 604.08,323.50 604.35,323.38 604.63,323.24 604.91,323.10 605.19,322.95 605.48,322.80 605.78,322.64 606.07,322.47 606.37,322.29 606.67,322.11 606.97,321.92 607.28,321.72 607.59,321.51 607.90,321.30 608.21,321.08 608.53,320.85 608.84,320.61 609.16,320.37 609.48,320.11 609.80,319.85 610.11,319.58 610.43,319.31 610.75,319.02 611.07,318.73 611.39,318.43 611.71,318.12 612.02,317.81 612.34,317.49 612.65,317.15 612.97,316.81 613.28,316.47 613.59,316.11 613.89,315.75 614.20,315.38 614.50,315.00 614.80,314.62 615.09,314.23 615.38,313.83 615.67,313.42 615.95,313.00 616.23,312.58 616.51,312.15 616.78,311.72 617.05,311.28 617.31,310.83 617.56,310.37 617.81,309.91 618.06,309.44 618.30,308.97 618.53,308.49 618.76,308.00 618.98,307.51 619.19,307.01 619.40,306.51 619.60,306.00 619.79,305.49 619.97,304.97 620.15,304.45 620.32,303.93 620.48,303.40 620.64,302.86 620.78,302.32 620.92,301.78 621.05,301.24 621.17,300.69 621.29,300.13 621.39,299.58 621.48,299.02 621.57,298.46 621.64,297.90 621.71,297.34 621.77,296.77 621.82,296.21 621.85,295.64 621.88,295.07 621.90,294.50 621.91,293.93 621.91,293.36 621.90,292.79 621.88,292.22 621.85,291.65 621.81,291.08 621.76,290.52 621.70,289.95 621.63,289.39 621.55,288.83 621.45,288.27 621.35,287.71 621.24,287.15 621.12,286.60 620.99,286.05 620.85,285.50 620.69,284.96 620.53,284.42 620.36,283.89 620.18,283.36 619.98,282.83 619.78,282.31 619.57,281.80 619.35,281.29 619.12,280.79 618.88,280.29 618.63,279.79 618.37,279.31 618.10,278.83 617.82,278.36 617.53,277.89 617.24,277.43 616.93,276.98 616.62,276.54 616.30,276.11 615.96,275.68 615.63,275.26 615.28,274.85 614.92,274.45 614.56,274.06 614.19,273.68 613.81,273.31 613.43,272.94 613.04,272.59 612.64,272.24 612.23,271.91 611.82,271.59 611.40,271.27 610.97,270.97 610.54,270.68 610.11,270.40 609.66,270.13 609.22,269.87 608.76,269.62 608.31,269.39 607.84,269.16 607.38,268.95 606.91,268.75 606.43,268.56 605.95,268.38 605.47,268.22 604.99,268.07 604.50,267.93 604.01,267.80 603.51,267.68 603.02,267.58 602.52,267.49 602.02,267.41 601.52,267.35 601.02,267.29 600.52,267.25 600.01,267.22 599.51,267.21 599.00,267.21 598.50,267.22 598.00,267.24 597.49,267.27 596.99,267.32 596.49,267.38 595.99,267.46 595.49,267.54 594.99,267.64 594.50,267.75 594.00,267.88 593.51,268.01 593.03,268.16 592.54,268.32 592.06,268.49 591.58,268.68 591.11,268.87 590.64,269.08 590.18,269.30 589.71,269.53 589.26,269.77 588.81,270.03 588.36,270.29 587.92,270.57 587.48,270.86 587.05,271.15 586.63,271.46 586.21,271.78 585.80,272.11 585.40,272.45 585.00,272.80 584.61,273.16 584.23,273.53 583.85,273.91 583.48,274.30 583.12,274.70 582.77,275.10 582.42,275.52 582.08,275.94 581.76,276.37 581.43,276.81 581.12,277.26 580.82,277.71 580.53,278.17 580.24,278.64 579.96,279.12 579.70,279.60 579.44,280.09 579.19,280.59 578.95,281.09 578.72,281.60 578.50,282.11 578.29,282.63 578.09,283.15 577.90,283.68 577.72,284.21 577.55,284.75 577.39,285.29 577.23,285.83 577.09,286.38 576.96,286.93 576.84,287.49 576.73,288.04 576.63,288.60 576.54,289.16 576.46,289.73 576.39,290.29 576.33,290.86 576.28,291.43 576.24,291.99 576.21,292.56 576.19,293.13 576.18,293.70 576.18,294.27 576.18,294.84 576.20,295.41 576.23,295.98 576.27,296.55 576.32,297.11 576.37,297.67 576.44,298.24 576.51,298.80 576.60,299.35 576.69,299.91 576.79,300.46 576.90,301.01 577.02,301.56 577.15,302.10 577.28,302.64 577.43,303.18 577.58,303.71 577.74,304.24 577.90,304.76 578.08,305.28 578.26,305.79 578.45,306.30 578.65,306.81 578.85,307.31 579.06,307.80 579.27,308.29 579.50,308.77 579.72,309.25 579.96,309.72 580.20,310.18 580.44,310.64 580.69,311.09 580.95,311.53 581.21,311.97 581.47,312.40 581.74,312.83 582.02,313.24 582.29,313.65 582.58,314.06 582.86,314.45 583.15,314.84 583.44,315.22 583.73,315.59 584.03,315.96 584.33,316.31 584.63,316.66 584.93,317.01 585.23,317.34 585.54,317.67 585.85,317.99 586.15,318.30 586.46,318.60 586.77,318.90 587.08,319.18 587.39,319.46 587.70,319.73 588.01,320.00 588.32,320.25 588.62,320.50 588.93,320.74 589.23,320.97 589.54,321.20 589.84,321.41 590.14,321.62 590.44,321.82 590.73,322.02 591.02,322.20 591.31,322.38 591.60,322.56 591.88,322.72 592.16,322.88 592.44,323.03 592.71,323.17 592.98,323.31 593.24,323.44 593.50,323.57 593.75,323.68 594.00,323.80 594.25,323.90 594.49,324.00 594.72,324.09 594.95,324.18 595.18,324.26 595.39,324.34 595.61,324.41 595.81,324.48 596.01,324.54 596.21,324.60 596.39,324.65 596.57,324.69 596.75,324.74 596.91,324.78 597.08,324.81 597.23,324.84 597.38,324.87 597.51,324.90 597.65,324.92 597.77,324.94 597.89,324.95 598.00,324.96 598.10,324.98 598.20,324.98 598.28,324.99 598.36,325.00 598.44,325.00 598.50,325.00 598.44,325.00 598.36,325.00 598.28,325.00 598.20,325.01 598.10,325.01 598.00,325.02 597.89,325.03 597.77,325.04 597.64,325.05 597.51,325.07 597.37,325.09 597.22,325.11 597.07,325.14 596.91,325.17 596.74,325.20 596.56,325.24 596.38,325.28 596.19,325.32 596.00,325.37 595.80,325.43 595.59,325.49 595.37,325.55 595.15,325.62 594.93,325.69 594.69,325.77 594.46,325.86 594.21,325.95 593.96,326.05 593.71,326.15 593.45,326.26 593.19,326.37 592.92,326.50 592.65,326.62 592.37,326.76 592.09,326.90 591.81,327.05 591.52,327.20 591.22,327.36 590.93,327.53 590.63,327.71 590.33,327.89 590.03,328.08 589.72,328.28 589.41,328.49 589.10,328.70 588.79,328.92 588.47,329.15 588.16,329.39 587.84,329.63 587.52,329.89 587.20,330.15 586.89,330.42 586.57,330.69 586.25,330.98 585.93,331.27 585.61,331.57 585.29,331.88 584.98,332.19 584.66,332.51 584.35,332.85 584.03,333.19 583.72,333.53 583.41,333.89 583.11,334.25 582.80,334.62 582.50,335.00 582.20,335.38 581.91,335.77 581.62,336.17 581.33,336.58 581.05,337.00 580.77,337.42 580.49,337.85 580.22,338.28 579.95,338.72 579.69,339.17 579.44,339.63 579.19,340.09 578.94,340.56 578.70,341.03 578.47,341.51 578.24,342.00 578.02,342.49 577.81,342.99 577.60,343.49 577.40,344.00 577.21,344.51 577.03,345.03 576.85,345.55 576.68,346.07 576.52,346.60 576.36,347.14 576.22,347.68 576.08,348.22 575.95,348.76 575.83,349.31 575.71,349.87 575.61,350.42 575.52,350.98 575.43,351.54 575.36,352.10 575.29,352.66 575.23,353.23 575.18,353.79 575.15,354.36 575.12,354.93 575.10,355.50 575.09,356.07 575.09,356.64 575.10,357.21 575.12,357.78 575.15,358.35 575.19,358.92 575.24,359.48 575.30,360.05 575.37,360.61 575.45,361.17 575.55,361.73 575.65,362.29 575.76,362.85 575.88,363.40 576.01,363.95 576.15,364.50 576.31,365.04 576.47,365.58 576.64,366.11 576.82,366.64 577.02,367.17 577.22,367.69 577.43,368.20 577.65,368.71 577.88,369.21 578.12,369.71 578.37,370.21 578.63,370.69 578.90,371.17 579.18,371.64 579.47,372.11 579.76,372.57 580.07,373.02 580.38,373.46 580.70,373.89 581.04,374.32 581.37,374.74 581.72,375.15 582.08,375.55 582.44,375.94 582.81,376.32 583.19,376.69 583.57,377.06 583.96,377.41 584.36,377.76 584.77,378.09 585.18,378.41 585.60,378.73 586.03,379.03 586.46,379.32 586.89,379.60 587.34,379.87 587.78,380.13 588.24,380.38 588.69,380.61 589.16,380.84 589.62,381.05 590.09,381.25 590.57,381.44 591.05,381.62 591.53,381.78 592.01,381.93 592.50,382.07 592.99,382.20 593.49,382.32 593.98,382.42 594.48,382.51 594.98,382.59 595.48,382.65 595.98,382.71 596.48,382.75 596.99,382.78 597.49,382.79 598.00,382.79 598.50,382.78 599.00,382.76 599.51,382.73 600.01,382.68 600.51,382.62 601.01,382.54 601.51,382.46 602.01,382.36 602.50,382.25 603.00,382.12 603.49,381.99 603.97,381.84 604.46,381.68 604.94,381.51 605.42,381.32 605.89,381.13 606.36,380.92 606.82,380.70 607.29,380.47 607.74,380.23 608.19,379.97 608.64,379.71 609.08,379.43 609.52,379.14 609.95,378.85 610.37,378.54 610.79,378.22 611.20,377.89 611.60,377.55 612.00,377.20 612.39,376.84 612.77,376.47 613.15,376.09 613.52,375.70 613.88,375.30 614.23,374.90 614.58,374.48 614.92,374.06 615.24,373.63 615.57,373.19 615.88,372.74 616.18,372.29 616.47,371.83 616.76,371.36 617.04,370.88 617.30,370.40 617.56,369.91 617.81,369.41 618.05,368.91 618.28,368.40 618.50,367.89 618.71,367.37 618.91,366.85 619.10,366.32 619.28,365.79 619.45,365.25 619.61,364.71 619.77,364.17 619.91,363.62 620.04,363.07 620.16,362.51 620.27,361.96 620.37,361.40 620.46,360.84 620.54,360.27 620.61,359.71 620.67,359.14 620.72,358.57 620.76,358.01 620.79,357.44 620.81,356.87 620.82,356.30 620.82,355.73 620.82,355.16 620.80,354.59 620.77,354.02 620.73,353.45 620.68,352.89 620.63,352.33 620.56,351.76 620.49,351.20 620.40,350.65 620.31,350.09 620.21,349.54 620.10,348.99 619.98,348.44 619.85,347.90 619.72,347.36 619.57,346.82 619.42,346.29 619.26,345.76 619.10,345.24 618.92,344.72 618.74,344.21 618.55,343.70 618.35,343.19 618.15,342.69 617.94,342.20 617.73,341.71 617.50,341.23 617.28,340.75 617.04,340.28 616.80,339.82 616.56,339.36 616.31,338.91 616.05,338.47 615.79,338.03 615.53,337.60 615.26,337.17 614.98,336.76 614.71,336.35 614.42,335.94 614.14,335.55 613.85,335.16 613.56,334.78 613.27,334.41 612.97,334.04 612.67,333.69 612.37,333.34 612.07,332.99 611.77,332.66 611.46,332.33 611.15,332.01 610.85,331.70 610.54,331.40 610.23,331.10 609.92,330.82 609.61,330.54 609.30,330.27 608.99,330.00 608.68,329.75 608.38,329.50 608.07,329.26 607.77,329.03 607.46,328.80 607.16,328.59 606.86,328.38 606.56,328.18 606.27,327.98 605.98,327.80 605.69,327.62 605.40,327.44 605.12,327.28 604.84,327.12 604.56,326.97 604.29,326.83 604.02,326.69 603.76,326.56 603.50,326.43 603.25,326.32 603.00,326.20 602.75,326.10 602.51,326.00 602.28,325.91 602.05,325.82 601.82,325.74 601.61,325.66 601.39,325.59 601.19,325.52 600.99,325.46 600.79,325.40 600.61,325.35 600.43,325.31 600.25,325.26 600.09,325.22 599.92,325.19 599.77,325.16 599.62,325.13 599.49,325.10 599.35,325.08 599.23,325.06 599.11,325.05 599.00,325.04 598.90,325.02 598.80,325.02 598.72,325.01 598.64,325.00 598.56,325.00 598.50,325.00 598.56,325.00 598.64,325.00" fill="none" stroke="#00ee00" stroke-width="2.1" stroke-linejoin="round"/>
<circle cx="598.6" cy="324.4" r="4.8" fill="url(#gg)"/>
<path d="M541.5,322.7 L621.5,322.7 L621.5,315.8 L658.5,325.3 L621.5,334.6 L621.5,327.9 L541.5,327.9 Z" fill="#ff0000"/>
<circle cx="588.6" cy="269" r="4.8" fill="url(#gg)"/>
<circle cx="608" cy="269.4" r="4.8" fill="url(#gg)"/>
<circle cx="624" cy="280.6" r="4.8" fill="url(#gg)"/>
<circle cx="577.6" cy="288.8" r="4.8" fill="url(#gg)"/>
<circle cx="581.4" cy="310.4" r="4.8" fill="url(#gg)"/>
<circle cx="611.4" cy="313.4" r="4.8" fill="url(#gg)"/>
<circle cx="605.6" cy="331.6" r="4.8" fill="url(#gg)"/>
<circle cx="581.6" cy="338.6" r="4.8" fill="url(#gg)"/>
<circle cx="618" cy="359.6" r="4.8" fill="url(#gg)"/>
<circle cx="572.4" cy="368.8" r="4.8" fill="url(#gg)"/>
<circle cx="587.4" cy="384.4" r="4.8" fill="url(#gg)"/>
<circle cx="607.6" cy="380" r="4.8" fill="url(#gg)"/>
<text x="504.6" y="244" font-family="'Liberation Serif','Times New Roman',serif" font-size="20.8" font-weight="bold" fill="#000" stroke="#000" stroke-width="0.3" text-anchor="start" >(f)</text>
<text x="617.2" y="241.4" font-family="'Liberation Serif','Times New Roman',serif" font-size="17.3" font-weight="bold" fill="#00ee00" stroke="#00ee00" stroke-width="0.3" text-anchor="start" >X</text>
<text x="629.89" y="247.37" font-family="'Liberation Serif','Times New Roman',serif" font-size="11.5" font-weight="bold" fill="#00ee00" stroke="#00ee00" stroke-width="0.25" text-anchor="start" >ZR</text>
<text x="646.67" y="250.4" font-family="'Liberation Serif','Times New Roman',serif" font-size="8.65" font-weight="bold" fill="#00ee00" stroke="#00ee00" stroke-width="0.2" text-anchor="start" >2</text>
</g>
</svg></body></html>
